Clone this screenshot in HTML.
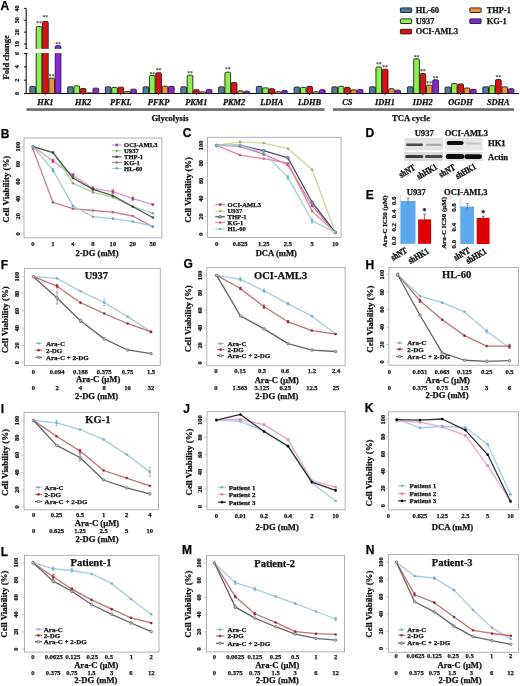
<!DOCTYPE html>
<html><head><meta charset="utf-8"><style>
html,body{margin:0;padding:0;background:#fff;}
svg{display:block;filter:blur(0.35px);}
text{stroke:#111;stroke-width:0.25px;}
text.ns{stroke:none;}
</style></head><body>
<svg width="520" height="686" viewBox="0 0 520 686">
<rect width="520" height="686" fill="#fff"/>
<text x="0.4" y="9.79" font-size="12" font-weight="bold" style="font-family:'Liberation Sans', sans-serif" fill="#000">A</text>
<line x1="26.2" y1="8.4" x2="26.2" y2="48.4" stroke="#000" stroke-width="1" />
<line x1="26.2" y1="53.5" x2="26.2" y2="94" stroke="#000" stroke-width="1" />
<line x1="24" y1="44" x2="26.2" y2="44" stroke="#000" stroke-width="0.9" />
<text transform="translate(17,44) rotate(-90)" x="0" y="1.99" font-size="6" text-anchor="middle" font-weight="bold" style="font-family:'Liberation Serif', serif;" fill="#222" >10</text>
<line x1="24" y1="32.13" x2="26.2" y2="32.13" stroke="#000" stroke-width="0.9" />
<text transform="translate(17,32.13) rotate(-90)" x="0" y="1.99" font-size="6" text-anchor="middle" font-weight="bold" style="font-family:'Liberation Serif', serif;" fill="#222" >20</text>
<line x1="24" y1="20.26" x2="26.2" y2="20.26" stroke="#000" stroke-width="0.9" />
<text transform="translate(17,20.26) rotate(-90)" x="0" y="1.99" font-size="6" text-anchor="middle" font-weight="bold" style="font-family:'Liberation Serif', serif;" fill="#222" >30</text>
<line x1="24" y1="8.39" x2="26.2" y2="8.39" stroke="#000" stroke-width="0.9" />
<text transform="translate(17,8.39) rotate(-90)" x="0" y="1.99" font-size="6" text-anchor="middle" font-weight="bold" style="font-family:'Liberation Serif', serif;" fill="#222" >40</text>
<line x1="24" y1="93.5" x2="26.2" y2="93.5" stroke="#000" stroke-width="0.9" />
<text transform="translate(17,93.5) rotate(-90)" x="0" y="1.99" font-size="6" text-anchor="middle" font-weight="bold" style="font-family:'Liberation Serif', serif;" fill="#222" >0</text>
<line x1="24" y1="80.17" x2="26.2" y2="80.17" stroke="#000" stroke-width="0.9" />
<text transform="translate(17,80.17) rotate(-90)" x="0" y="1.99" font-size="6" text-anchor="middle" font-weight="bold" style="font-family:'Liberation Serif', serif;" fill="#222" >2</text>
<line x1="24" y1="66.83" x2="26.2" y2="66.83" stroke="#000" stroke-width="0.9" />
<text transform="translate(17,66.83) rotate(-90)" x="0" y="1.99" font-size="6" text-anchor="middle" font-weight="bold" style="font-family:'Liberation Serif', serif;" fill="#222" >4</text>
<line x1="24" y1="53.5" x2="26.2" y2="53.5" stroke="#000" stroke-width="0.9" />
<text transform="translate(17,53.5) rotate(-90)" x="0" y="1.99" font-size="6" text-anchor="middle" font-weight="bold" style="font-family:'Liberation Serif', serif;" fill="#222" >6</text>
<line x1="25.2" y1="48.4" x2="27.7" y2="48.4" stroke="#000" stroke-width="0.9" />
<line x1="25.2" y1="53.5" x2="27.7" y2="53.5" stroke="#000" stroke-width="0.9" />
<text transform="translate(5.9,57.3) rotate(-90)" x="0" y="2.81" font-size="8.5" text-anchor="middle" font-weight="bold" style="font-family:'Liberation Serif', serif;" fill="#111" >Fold change</text>
<line x1="26.2" y1="93.5" x2="519" y2="93.5" stroke="#000" stroke-width="1" />
<rect x="29.85" y="86.37" width="5.65" height="7.13" fill="#4d7d9c" stroke="#1e1e1e" stroke-width="0.9" rx="1.1"/>
<rect x="36.2" y="26.55" width="5.65" height="66.95" fill="#8ef04a" stroke="#1e1e1e" stroke-width="0.9" rx="1.1"/>
<rect x="42.55" y="21.45" width="5.65" height="72.05" fill="#e01010" stroke="#1e1e1e" stroke-width="0.9" rx="1.1"/>
<rect x="48.9" y="78.17" width="5.65" height="15.33" fill="#f0913a" stroke="#1e1e1e" stroke-width="0.9" rx="1.1"/>
<rect x="55.25" y="45.78" width="5.65" height="47.72" fill="#8a24dc" stroke="#1e1e1e" stroke-width="0.9" rx="1.1"/>
<line x1="45.3" y1="93.5" x2="45.3" y2="95.1" stroke="#000" stroke-width="0.8" />
<text x="45.3" y="105.18" font-size="8.4" text-anchor="middle" font-weight="bold" style="font-family:'Liberation Serif', serif;font-style:italic;" fill="#111" >HK1</text>
<text x="39.02" y="25.32" font-size="5.8" text-anchor="middle" font-weight="bold" style="font-family:'Liberation Serif', serif;" fill="#444" class="ns">**</text>
<text x="45.38" y="19.32" font-size="5.8" text-anchor="middle" font-weight="bold" style="font-family:'Liberation Serif', serif;" fill="#444" class="ns">**</text>
<text x="51.72" y="78.12" font-size="5.8" text-anchor="middle" font-weight="bold" style="font-family:'Liberation Serif', serif;" fill="#444" class="ns">**</text>
<text x="58.07" y="45.62" font-size="5.8" text-anchor="middle" font-weight="bold" style="font-family:'Liberation Serif', serif;" fill="#444" class="ns">**</text>
<rect x="67.6" y="86.83" width="5.65" height="6.67" fill="#4d7d9c" stroke="#1e1e1e" stroke-width="0.9" rx="1.1"/>
<rect x="73.95" y="85.83" width="5.65" height="7.67" fill="#8ef04a" stroke="#1e1e1e" stroke-width="0.9" rx="1.1"/>
<rect x="80.3" y="88.5" width="5.65" height="5" fill="#e01010" stroke="#1e1e1e" stroke-width="0.9" rx="1.1"/>
<rect x="86.65" y="92.83" width="5.65" height="0.67" fill="#f0913a" stroke="#1e1e1e" stroke-width="0.9" rx="1.1"/>
<rect x="93" y="88.17" width="5.65" height="5.33" fill="#8a24dc" stroke="#1e1e1e" stroke-width="0.9" rx="1.1"/>
<line x1="83.05" y1="93.5" x2="83.05" y2="95.1" stroke="#000" stroke-width="0.8" />
<text x="83.05" y="105.18" font-size="8.4" text-anchor="middle" font-weight="bold" style="font-family:'Liberation Serif', serif;font-style:italic;" fill="#111" >HK2</text>
<rect x="105.35" y="86.83" width="5.65" height="6.67" fill="#4d7d9c" stroke="#1e1e1e" stroke-width="0.9" rx="1.1"/>
<rect x="111.7" y="87.5" width="5.65" height="6" fill="#8ef04a" stroke="#1e1e1e" stroke-width="0.9" rx="1.1"/>
<rect x="118.05" y="87.17" width="5.65" height="6.33" fill="#e01010" stroke="#1e1e1e" stroke-width="0.9" rx="1.1"/>
<rect x="124.4" y="91.5" width="5.65" height="2" fill="#f0913a" stroke="#1e1e1e" stroke-width="0.9" rx="1.1"/>
<rect x="130.75" y="89.17" width="5.65" height="4.33" fill="#8a24dc" stroke="#1e1e1e" stroke-width="0.9" rx="1.1"/>
<line x1="120.8" y1="93.5" x2="120.8" y2="95.1" stroke="#000" stroke-width="0.8" />
<text x="120.8" y="105.18" font-size="8.4" text-anchor="middle" font-weight="bold" style="font-family:'Liberation Serif', serif;font-style:italic;" fill="#111" >PFKL</text>
<rect x="143.1" y="86.83" width="5.65" height="6.67" fill="#4d7d9c" stroke="#1e1e1e" stroke-width="0.9" rx="1.1"/>
<rect x="149.45" y="75.5" width="5.65" height="18" fill="#8ef04a" stroke="#1e1e1e" stroke-width="0.9" rx="1.1"/>
<rect x="155.8" y="72.83" width="5.65" height="20.67" fill="#e01010" stroke="#1e1e1e" stroke-width="0.9" rx="1.1"/>
<rect x="162.15" y="86.17" width="5.65" height="7.33" fill="#f0913a" stroke="#1e1e1e" stroke-width="0.9" rx="1.1"/>
<rect x="168.5" y="86.37" width="5.65" height="7.13" fill="#8a24dc" stroke="#1e1e1e" stroke-width="0.9" rx="1.1"/>
<line x1="158.55" y1="93.5" x2="158.55" y2="95.1" stroke="#000" stroke-width="0.8" />
<text x="158.55" y="105.18" font-size="8.4" text-anchor="middle" font-weight="bold" style="font-family:'Liberation Serif', serif;font-style:italic;" fill="#111" >PFKP</text>
<text x="152.28" y="75.72" font-size="5.8" text-anchor="middle" font-weight="bold" style="font-family:'Liberation Serif', serif;" fill="#444" class="ns">**</text>
<text x="158.62" y="71.62" font-size="5.8" text-anchor="middle" font-weight="bold" style="font-family:'Liberation Serif', serif;" fill="#444" class="ns">**</text>
<rect x="180.85" y="86.83" width="5.65" height="6.67" fill="#4d7d9c" stroke="#1e1e1e" stroke-width="0.9" rx="1.1"/>
<rect x="187.2" y="75.17" width="5.65" height="18.33" fill="#8ef04a" stroke="#1e1e1e" stroke-width="0.9" rx="1.1"/>
<rect x="193.55" y="89.83" width="5.65" height="3.67" fill="#e01010" stroke="#1e1e1e" stroke-width="0.9" rx="1.1"/>
<rect x="199.9" y="91.83" width="5.65" height="1.67" fill="#f0913a" stroke="#1e1e1e" stroke-width="0.9" rx="1.1"/>
<rect x="206.25" y="89.5" width="5.65" height="4" fill="#8a24dc" stroke="#1e1e1e" stroke-width="0.9" rx="1.1"/>
<line x1="196.3" y1="93.5" x2="196.3" y2="95.1" stroke="#000" stroke-width="0.8" />
<text x="196.3" y="105.18" font-size="8.4" text-anchor="middle" font-weight="bold" style="font-family:'Liberation Serif', serif;font-style:italic;" fill="#111" >PKM1</text>
<text x="190.03" y="74.62" font-size="5.8" text-anchor="middle" font-weight="bold" style="font-family:'Liberation Serif', serif;" fill="#444" class="ns">**</text>
<rect x="218.6" y="86.83" width="5.65" height="6.67" fill="#4d7d9c" stroke="#1e1e1e" stroke-width="0.9" rx="1.1"/>
<rect x="224.95" y="72.17" width="5.65" height="21.33" fill="#8ef04a" stroke="#1e1e1e" stroke-width="0.9" rx="1.1"/>
<rect x="231.3" y="82.5" width="5.65" height="11" fill="#e01010" stroke="#1e1e1e" stroke-width="0.9" rx="1.1"/>
<rect x="237.65" y="90.83" width="5.65" height="2.67" fill="#f0913a" stroke="#1e1e1e" stroke-width="0.9" rx="1.1"/>
<rect x="244" y="91.17" width="5.65" height="2.33" fill="#8a24dc" stroke="#1e1e1e" stroke-width="0.9" rx="1.1"/>
<line x1="234.05" y1="93.5" x2="234.05" y2="95.1" stroke="#000" stroke-width="0.8" />
<text x="234.05" y="105.18" font-size="8.4" text-anchor="middle" font-weight="bold" style="font-family:'Liberation Serif', serif;font-style:italic;" fill="#111" >PKM2</text>
<text x="227.78" y="71.12" font-size="5.8" text-anchor="middle" font-weight="bold" style="font-family:'Liberation Serif', serif;" fill="#444" class="ns">**</text>
<rect x="256.35" y="86.37" width="5.65" height="7.13" fill="#4d7d9c" stroke="#1e1e1e" stroke-width="0.9" rx="1.1"/>
<rect x="262.7" y="87.83" width="5.65" height="5.67" fill="#8ef04a" stroke="#1e1e1e" stroke-width="0.9" rx="1.1"/>
<rect x="269.05" y="88.7" width="5.65" height="4.8" fill="#e01010" stroke="#1e1e1e" stroke-width="0.9" rx="1.1"/>
<rect x="275.4" y="91.7" width="5.65" height="1.8" fill="#f0913a" stroke="#1e1e1e" stroke-width="0.9" rx="1.1"/>
<rect x="281.75" y="90.5" width="5.65" height="3" fill="#8a24dc" stroke="#1e1e1e" stroke-width="0.9" rx="1.1"/>
<line x1="271.8" y1="93.5" x2="271.8" y2="95.1" stroke="#000" stroke-width="0.8" />
<text x="271.8" y="105.18" font-size="8.4" text-anchor="middle" font-weight="bold" style="font-family:'Liberation Serif', serif;font-style:italic;" fill="#111" >LDHA</text>
<rect x="294.1" y="87.03" width="5.65" height="6.47" fill="#4d7d9c" stroke="#1e1e1e" stroke-width="0.9" rx="1.1"/>
<rect x="300.45" y="87.37" width="5.65" height="6.13" fill="#8ef04a" stroke="#1e1e1e" stroke-width="0.9" rx="1.1"/>
<rect x="306.8" y="86.37" width="5.65" height="7.13" fill="#e01010" stroke="#1e1e1e" stroke-width="0.9" rx="1.1"/>
<rect x="313.15" y="91.7" width="5.65" height="1.8" fill="#f0913a" stroke="#1e1e1e" stroke-width="0.9" rx="1.1"/>
<rect x="319.5" y="89.7" width="5.65" height="3.8" fill="#8a24dc" stroke="#1e1e1e" stroke-width="0.9" rx="1.1"/>
<line x1="309.55" y1="93.5" x2="309.55" y2="95.1" stroke="#000" stroke-width="0.8" />
<text x="309.55" y="105.18" font-size="8.4" text-anchor="middle" font-weight="bold" style="font-family:'Liberation Serif', serif;font-style:italic;" fill="#111" >LDHB</text>
<rect x="331.85" y="86.83" width="5.65" height="6.67" fill="#4d7d9c" stroke="#1e1e1e" stroke-width="0.9" rx="1.1"/>
<rect x="338.2" y="86.37" width="5.65" height="7.13" fill="#8ef04a" stroke="#1e1e1e" stroke-width="0.9" rx="1.1"/>
<rect x="344.55" y="87.37" width="5.65" height="6.13" fill="#e01010" stroke="#1e1e1e" stroke-width="0.9" rx="1.1"/>
<rect x="350.9" y="89.83" width="5.65" height="3.67" fill="#f0913a" stroke="#1e1e1e" stroke-width="0.9" rx="1.1"/>
<rect x="357.25" y="89.5" width="5.65" height="4" fill="#8a24dc" stroke="#1e1e1e" stroke-width="0.9" rx="1.1"/>
<line x1="347.3" y1="93.5" x2="347.3" y2="95.1" stroke="#000" stroke-width="0.8" />
<text x="347.3" y="105.18" font-size="8.4" text-anchor="middle" font-weight="bold" style="font-family:'Liberation Serif', serif;font-style:italic;" fill="#111" >CS</text>
<rect x="369.6" y="86.83" width="5.65" height="6.67" fill="#4d7d9c" stroke="#1e1e1e" stroke-width="0.9" rx="1.1"/>
<rect x="375.95" y="66.97" width="5.65" height="26.53" fill="#8ef04a" stroke="#1e1e1e" stroke-width="0.9" rx="1.1"/>
<rect x="382.3" y="69.3" width="5.65" height="24.2" fill="#e01010" stroke="#1e1e1e" stroke-width="0.9" rx="1.1"/>
<rect x="388.65" y="88.7" width="5.65" height="4.8" fill="#f0913a" stroke="#1e1e1e" stroke-width="0.9" rx="1.1"/>
<rect x="395" y="90.17" width="5.65" height="3.33" fill="#8a24dc" stroke="#1e1e1e" stroke-width="0.9" rx="1.1"/>
<line x1="385.05" y1="93.5" x2="385.05" y2="95.1" stroke="#000" stroke-width="0.8" />
<text x="385.05" y="105.18" font-size="8.4" text-anchor="middle" font-weight="bold" style="font-family:'Liberation Serif', serif;font-style:italic;" fill="#111" >IDH1</text>
<text x="378.78" y="65.72" font-size="5.8" text-anchor="middle" font-weight="bold" style="font-family:'Liberation Serif', serif;" fill="#444" class="ns">**</text>
<text x="385.12" y="68.52" font-size="5.8" text-anchor="middle" font-weight="bold" style="font-family:'Liberation Serif', serif;" fill="#444" class="ns">**</text>
<rect x="407.35" y="86.83" width="5.65" height="6.67" fill="#4d7d9c" stroke="#1e1e1e" stroke-width="0.9" rx="1.1"/>
<rect x="413.7" y="58.83" width="5.65" height="34.67" fill="#8ef04a" stroke="#1e1e1e" stroke-width="0.9" rx="1.1"/>
<rect x="420.05" y="73.5" width="5.65" height="20" fill="#e01010" stroke="#1e1e1e" stroke-width="0.9" rx="1.1"/>
<rect x="426.4" y="85.17" width="5.65" height="8.33" fill="#f0913a" stroke="#1e1e1e" stroke-width="0.9" rx="1.1"/>
<rect x="432.75" y="79.83" width="5.65" height="13.67" fill="#8a24dc" stroke="#1e1e1e" stroke-width="0.9" rx="1.1"/>
<line x1="422.8" y1="93.5" x2="422.8" y2="95.1" stroke="#000" stroke-width="0.8" />
<text x="422.8" y="105.18" font-size="8.4" text-anchor="middle" font-weight="bold" style="font-family:'Liberation Serif', serif;font-style:italic;" fill="#111" >IDH2</text>
<text x="416.53" y="58.82" font-size="5.8" text-anchor="middle" font-weight="bold" style="font-family:'Liberation Serif', serif;" fill="#444" class="ns">**</text>
<text x="422.88" y="72.72" font-size="5.8" text-anchor="middle" font-weight="bold" style="font-family:'Liberation Serif', serif;" fill="#444" class="ns">**</text>
<text x="429.23" y="84.72" font-size="5.8" text-anchor="middle" font-weight="bold" style="font-family:'Liberation Serif', serif;" fill="#444" class="ns">**</text>
<text x="435.57" y="79.62" font-size="5.8" text-anchor="middle" font-weight="bold" style="font-family:'Liberation Serif', serif;" fill="#444" class="ns">**</text>
<rect x="445.1" y="87.03" width="5.65" height="6.47" fill="#4d7d9c" stroke="#1e1e1e" stroke-width="0.9" rx="1.1"/>
<rect x="451.45" y="83.5" width="5.65" height="10" fill="#8ef04a" stroke="#1e1e1e" stroke-width="0.9" rx="1.1"/>
<rect x="457.8" y="84.03" width="5.65" height="9.47" fill="#e01010" stroke="#1e1e1e" stroke-width="0.9" rx="1.1"/>
<rect x="464.15" y="87.97" width="5.65" height="5.53" fill="#f0913a" stroke="#1e1e1e" stroke-width="0.9" rx="1.1"/>
<rect x="470.5" y="89.37" width="5.65" height="4.13" fill="#8a24dc" stroke="#1e1e1e" stroke-width="0.9" rx="1.1"/>
<line x1="460.55" y1="93.5" x2="460.55" y2="95.1" stroke="#000" stroke-width="0.8" />
<text x="460.55" y="105.18" font-size="8.4" text-anchor="middle" font-weight="bold" style="font-family:'Liberation Serif', serif;font-style:italic;" fill="#111" >OGDH</text>
<rect x="482.85" y="86.83" width="5.65" height="6.67" fill="#4d7d9c" stroke="#1e1e1e" stroke-width="0.9" rx="1.1"/>
<rect x="489.2" y="85.7" width="5.65" height="7.8" fill="#8ef04a" stroke="#1e1e1e" stroke-width="0.9" rx="1.1"/>
<rect x="495.55" y="79.5" width="5.65" height="14" fill="#e01010" stroke="#1e1e1e" stroke-width="0.9" rx="1.1"/>
<rect x="501.9" y="86.83" width="5.65" height="6.67" fill="#f0913a" stroke="#1e1e1e" stroke-width="0.9" rx="1.1"/>
<rect x="508.25" y="88.7" width="5.65" height="4.8" fill="#8a24dc" stroke="#1e1e1e" stroke-width="0.9" rx="1.1"/>
<line x1="498.3" y1="93.5" x2="498.3" y2="95.1" stroke="#000" stroke-width="0.8" />
<text x="498.3" y="105.18" font-size="8.4" text-anchor="middle" font-weight="bold" style="font-family:'Liberation Serif', serif;font-style:italic;" fill="#111" >SDHA</text>
<text x="498.38" y="78.92" font-size="5.8" text-anchor="middle" font-weight="bold" style="font-family:'Liberation Serif', serif;" fill="#444" class="ns">**</text>
<rect x="26.8" y="48.85" width="70" height="4.2" fill="#fff" />
<rect x="26.5" y="108.2" width="298" height="2.7" fill="#6e6e6e" />
<rect x="333" y="108.2" width="181" height="2.7" fill="#6e6e6e" />
<text x="170" y="120.65" font-size="8.6" text-anchor="middle" font-weight="bold" style="font-family:'Liberation Serif', serif;" fill="#111" >Glycolysis</text>
<text x="411" y="120.65" font-size="8.6" text-anchor="middle" font-weight="bold" style="font-family:'Liberation Serif', serif;" fill="#111" >TCA cycle</text>
<rect x="400.4" y="7.9" width="11.3" height="4.6" fill="#4d7d9c" stroke="#1a1a1a" stroke-width="0.9" rx="0.6"/>
<text x="415.8" y="12.98" font-size="8.4" text-anchor="start" font-weight="bold" style="font-family:'Liberation Serif', serif;" fill="#111" >HL-60</text>
<rect x="400.4" y="18.9" width="11.3" height="4.6" fill="#8ef04a" stroke="#1a1a1a" stroke-width="0.9" rx="0.6"/>
<text x="415.8" y="23.98" font-size="8.4" text-anchor="start" font-weight="bold" style="font-family:'Liberation Serif', serif;" fill="#111" >U937</text>
<rect x="400.4" y="29.3" width="11.3" height="4.6" fill="#e01010" stroke="#1a1a1a" stroke-width="0.9" rx="0.6"/>
<text x="415.8" y="34.38" font-size="8.4" text-anchor="start" font-weight="bold" style="font-family:'Liberation Serif', serif;" fill="#111" >OCI-AML3</text>
<rect x="469.8" y="7.9" width="11.3" height="4.6" fill="#f0913a" stroke="#1a1a1a" stroke-width="0.9" rx="0.6"/>
<text x="486.7" y="12.98" font-size="8.4" text-anchor="start" font-weight="bold" style="font-family:'Liberation Serif', serif;" fill="#111" >THP-1</text>
<rect x="469.8" y="18.9" width="11.3" height="4.6" fill="#8a24dc" stroke="#1a1a1a" stroke-width="0.9" rx="0.6"/>
<text x="486.7" y="23.98" font-size="8.4" text-anchor="start" font-weight="bold" style="font-family:'Liberation Serif', serif;" fill="#111" >KG-1</text>
<text x="0.8" y="137.59" font-size="12" font-weight="bold" style="font-family:'Liberation Sans', sans-serif" fill="#000">B</text>
<rect x="24" y="138" width="137.9" height="99.9" fill="none" stroke="#a8a8a8" stroke-width="0.9" />
<line x1="21.4" y1="233.8" x2="24" y2="233.8" stroke="#bbb" stroke-width="0.8" />
<text transform="translate(17.6,233.8) rotate(-90)" x="0" y="2.12" font-size="6.4" text-anchor="middle" font-weight="bold" style="font-family:'Liberation Serif', serif;" fill="#222" >0</text>
<line x1="21.4" y1="216.36" x2="24" y2="216.36" stroke="#bbb" stroke-width="0.8" />
<text transform="translate(17.6,216.36) rotate(-90)" x="0" y="2.12" font-size="6.4" text-anchor="middle" font-weight="bold" style="font-family:'Liberation Serif', serif;" fill="#222" >20</text>
<line x1="21.4" y1="198.92" x2="24" y2="198.92" stroke="#bbb" stroke-width="0.8" />
<text transform="translate(17.6,198.92) rotate(-90)" x="0" y="2.12" font-size="6.4" text-anchor="middle" font-weight="bold" style="font-family:'Liberation Serif', serif;" fill="#222" >40</text>
<line x1="21.4" y1="181.48" x2="24" y2="181.48" stroke="#bbb" stroke-width="0.8" />
<text transform="translate(17.6,181.48) rotate(-90)" x="0" y="2.12" font-size="6.4" text-anchor="middle" font-weight="bold" style="font-family:'Liberation Serif', serif;" fill="#222" >60</text>
<line x1="21.4" y1="164.04" x2="24" y2="164.04" stroke="#bbb" stroke-width="0.8" />
<text transform="translate(17.6,164.04) rotate(-90)" x="0" y="2.12" font-size="6.4" text-anchor="middle" font-weight="bold" style="font-family:'Liberation Serif', serif;" fill="#222" >80</text>
<line x1="21.4" y1="146.6" x2="24" y2="146.6" stroke="#bbb" stroke-width="0.8" />
<text transform="translate(17.6,146.6) rotate(-90)" x="0" y="2.12" font-size="6.4" text-anchor="middle" font-weight="bold" style="font-family:'Liberation Serif', serif;" fill="#222" >100</text>
<text transform="translate(5.8,189.2) rotate(-90)" x="0" y="2.95" font-size="8.9" text-anchor="middle" font-weight="bold" style="font-family:'Liberation Serif', serif;" fill="#111" >Cell Viability (%)</text>
<text x="33" y="246.38" font-size="6.6" text-anchor="middle" font-weight="bold" style="font-family:'Liberation Serif', serif;" fill="#222" >0</text>
<text x="52.97" y="246.38" font-size="6.6" text-anchor="middle" font-weight="bold" style="font-family:'Liberation Serif', serif;" fill="#222" >1</text>
<text x="72.94" y="246.38" font-size="6.6" text-anchor="middle" font-weight="bold" style="font-family:'Liberation Serif', serif;" fill="#222" >4</text>
<text x="92.91" y="246.38" font-size="6.6" text-anchor="middle" font-weight="bold" style="font-family:'Liberation Serif', serif;" fill="#222" >8</text>
<text x="112.88" y="246.38" font-size="6.6" text-anchor="middle" font-weight="bold" style="font-family:'Liberation Serif', serif;" fill="#222" >10</text>
<text x="132.85" y="246.38" font-size="6.6" text-anchor="middle" font-weight="bold" style="font-family:'Liberation Serif', serif;" fill="#222" >20</text>
<text x="152.82" y="246.38" font-size="6.6" text-anchor="middle" font-weight="bold" style="font-family:'Liberation Serif', serif;" fill="#222" >50</text>
<text x="97" y="256.45" font-size="8.6" text-anchor="middle" font-weight="bold" style="font-family:'Liberation Serif', serif;" fill="#111" >2-DG (mM)</text>
<polyline points="33,146.6 52.97,160.99 72.94,175.38 92.91,188.46 112.88,191.68 132.85,198.66 152.82,204.59" fill="none" stroke="#d49cc8" stroke-width="1.3" stroke-linejoin="round"/>
<rect x="31.7" y="145.3" width="2.6" height="2.6" fill="#b03c90"/>
<line x1="52.97" y1="159.24" x2="52.97" y2="162.73" stroke="#b03c90" stroke-width="0.7" />
<line x1="51.77" y1="159.24" x2="54.17" y2="159.24" stroke="#b03c90" stroke-width="0.7" />
<line x1="51.77" y1="162.73" x2="54.17" y2="162.73" stroke="#b03c90" stroke-width="0.7" />
<rect x="51.67" y="159.69" width="2.6" height="2.6" fill="#b03c90"/>
<line x1="72.94" y1="173.63" x2="72.94" y2="177.12" stroke="#b03c90" stroke-width="0.7" />
<line x1="71.74" y1="173.63" x2="74.14" y2="173.63" stroke="#b03c90" stroke-width="0.7" />
<line x1="71.74" y1="177.12" x2="74.14" y2="177.12" stroke="#b03c90" stroke-width="0.7" />
<rect x="71.64" y="174.08" width="2.6" height="2.6" fill="#b03c90"/>
<line x1="92.91" y1="186.71" x2="92.91" y2="190.2" stroke="#b03c90" stroke-width="0.7" />
<line x1="91.71" y1="186.71" x2="94.11" y2="186.71" stroke="#b03c90" stroke-width="0.7" />
<line x1="91.71" y1="190.2" x2="94.11" y2="190.2" stroke="#b03c90" stroke-width="0.7" />
<rect x="91.61" y="187.16" width="2.6" height="2.6" fill="#b03c90"/>
<line x1="112.88" y1="189.94" x2="112.88" y2="193.43" stroke="#b03c90" stroke-width="0.7" />
<line x1="111.68" y1="189.94" x2="114.08" y2="189.94" stroke="#b03c90" stroke-width="0.7" />
<line x1="111.68" y1="193.43" x2="114.08" y2="193.43" stroke="#b03c90" stroke-width="0.7" />
<rect x="111.58" y="190.38" width="2.6" height="2.6" fill="#b03c90"/>
<line x1="132.85" y1="196.91" x2="132.85" y2="200.4" stroke="#b03c90" stroke-width="0.7" />
<line x1="131.65" y1="196.91" x2="134.05" y2="196.91" stroke="#b03c90" stroke-width="0.7" />
<line x1="131.65" y1="200.4" x2="134.05" y2="200.4" stroke="#b03c90" stroke-width="0.7" />
<rect x="131.55" y="197.36" width="2.6" height="2.6" fill="#b03c90"/>
<rect x="151.52" y="203.29" width="2.6" height="2.6" fill="#b03c90"/>
<polyline points="33,146.6 52.97,152.27 72.94,183.22 92.91,192.38 112.88,197.18 132.85,206.77 152.82,213.22" fill="none" stroke="#a8d498" stroke-width="1.3" stroke-linejoin="round"/>
<circle cx="33" cy="146.6" r="1.3" fill="#78b468"/>
<circle cx="52.97" cy="152.27" r="1.3" fill="#78b468"/>
<circle cx="72.94" cy="183.22" r="1.3" fill="#78b468"/>
<circle cx="92.91" cy="192.38" r="1.3" fill="#78b468"/>
<circle cx="112.88" cy="197.18" r="1.3" fill="#78b468"/>
<circle cx="132.85" cy="206.77" r="1.3" fill="#78b468"/>
<circle cx="152.82" cy="213.22" r="1.3" fill="#78b468"/>
<polyline points="33,146.6 52.97,152.7 72.94,177.99 92.91,189.33 112.88,195.69 132.85,206.77 152.82,217.49" fill="none" stroke="#4c5c4a" stroke-width="1.3" stroke-linejoin="round"/>
<circle cx="33" cy="146.6" r="1.3" fill="#3c4c3a"/>
<circle cx="52.97" cy="152.7" r="1.3" fill="#3c4c3a"/>
<circle cx="72.94" cy="177.99" r="1.3" fill="#3c4c3a"/>
<circle cx="92.91" cy="189.33" r="1.3" fill="#3c4c3a"/>
<circle cx="112.88" cy="195.69" r="1.3" fill="#3c4c3a"/>
<circle cx="132.85" cy="206.77" r="1.3" fill="#3c4c3a"/>
<circle cx="152.82" cy="217.49" r="1.3" fill="#3c4c3a"/>
<polyline points="33,149.22 52.97,202.41 72.94,208.69 92.91,210.52 112.88,212.17 132.85,216.01 152.82,226.82" fill="none" stroke="#c88088" stroke-width="1.3" stroke-linejoin="round"/>
<circle cx="33" cy="149.22" r="1.3" fill="#b06870"/>
<circle cx="52.97" cy="202.41" r="1.3" fill="#b06870"/>
<circle cx="72.94" cy="208.69" r="1.3" fill="#b06870"/>
<circle cx="92.91" cy="210.52" r="1.3" fill="#b06870"/>
<circle cx="112.88" cy="212.17" r="1.3" fill="#b06870"/>
<circle cx="132.85" cy="216.01" r="1.3" fill="#b06870"/>
<circle cx="152.82" cy="226.82" r="1.3" fill="#b06870"/>
<polyline points="33,146.6 52.97,170.14 72.94,205.9 92.91,216.71 112.88,218.63 132.85,221.59 152.82,226.21" fill="none" stroke="#a0cce2" stroke-width="1.3" stroke-linejoin="round"/>
<circle cx="33" cy="146.6" r="1.3" fill="#68acd4"/>
<line x1="52.97" y1="168.4" x2="52.97" y2="171.89" stroke="#68acd4" stroke-width="0.7" />
<line x1="51.77" y1="168.4" x2="54.17" y2="168.4" stroke="#68acd4" stroke-width="0.7" />
<line x1="51.77" y1="171.89" x2="54.17" y2="171.89" stroke="#68acd4" stroke-width="0.7" />
<circle cx="52.97" cy="170.14" r="1.3" fill="#68acd4"/>
<circle cx="72.94" cy="205.9" r="1.3" fill="#68acd4"/>
<circle cx="92.91" cy="216.71" r="1.3" fill="#68acd4"/>
<circle cx="112.88" cy="218.63" r="1.3" fill="#68acd4"/>
<circle cx="132.85" cy="221.59" r="1.3" fill="#68acd4"/>
<circle cx="152.82" cy="226.21" r="1.3" fill="#68acd4"/>
<line x1="112" y1="145" x2="121.5" y2="145" stroke="#d49cc8" stroke-width="1.2" />
<rect x="115.45" y="143.7" width="2.6" height="2.6" fill="#b03c90"/>
<text x="124.1" y="147.18" font-size="6.6" text-anchor="start" font-weight="bold" style="font-family:'Liberation Serif', serif;" fill="#111" >OCI-AML3</text>
<line x1="112" y1="150.8" x2="121.5" y2="150.8" stroke="#a8d498" stroke-width="1.2" />
<circle cx="116.75" cy="150.8" r="1.3" fill="#78b468"/>
<text x="124.1" y="152.98" font-size="6.6" text-anchor="start" font-weight="bold" style="font-family:'Liberation Serif', serif;" fill="#111" >U937</text>
<line x1="112" y1="156.8" x2="121.5" y2="156.8" stroke="#4c5c4a" stroke-width="1.2" />
<circle cx="116.75" cy="156.8" r="1.3" fill="#3c4c3a"/>
<text x="124.1" y="158.98" font-size="6.6" text-anchor="start" font-weight="bold" style="font-family:'Liberation Serif', serif;" fill="#111" >THP-1</text>
<line x1="112" y1="162.5" x2="121.5" y2="162.5" stroke="#c88088" stroke-width="1.2" />
<circle cx="116.75" cy="162.5" r="1.3" fill="#b06870"/>
<text x="124.1" y="164.68" font-size="6.6" text-anchor="start" font-weight="bold" style="font-family:'Liberation Serif', serif;" fill="#111" >KG-1</text>
<line x1="112" y1="168.4" x2="121.5" y2="168.4" stroke="#a0cce2" stroke-width="1.2" />
<circle cx="116.75" cy="168.4" r="1.3" fill="#68acd4"/>
<text x="124.1" y="170.58" font-size="6.6" text-anchor="start" font-weight="bold" style="font-family:'Liberation Serif', serif;" fill="#111" >HL-60</text>
<text x="182.8" y="137.09" font-size="12" font-weight="bold" style="font-family:'Liberation Sans', sans-serif" fill="#000">C</text>
<rect x="207.5" y="137.3" width="133.5" height="100.2" fill="none" stroke="#a8a8a8" stroke-width="0.9" />
<line x1="204.9" y1="234.2" x2="207.5" y2="234.2" stroke="#bbb" stroke-width="0.8" />
<text transform="translate(200.7,234.2) rotate(-90)" x="0" y="2.12" font-size="6.4" text-anchor="middle" font-weight="bold" style="font-family:'Liberation Serif', serif;" fill="#222" >0</text>
<line x1="204.9" y1="216.44" x2="207.5" y2="216.44" stroke="#bbb" stroke-width="0.8" />
<text transform="translate(200.7,216.44) rotate(-90)" x="0" y="2.12" font-size="6.4" text-anchor="middle" font-weight="bold" style="font-family:'Liberation Serif', serif;" fill="#222" >20</text>
<line x1="204.9" y1="198.68" x2="207.5" y2="198.68" stroke="#bbb" stroke-width="0.8" />
<text transform="translate(200.7,198.68) rotate(-90)" x="0" y="2.12" font-size="6.4" text-anchor="middle" font-weight="bold" style="font-family:'Liberation Serif', serif;" fill="#222" >40</text>
<line x1="204.9" y1="180.92" x2="207.5" y2="180.92" stroke="#bbb" stroke-width="0.8" />
<text transform="translate(200.7,180.92) rotate(-90)" x="0" y="2.12" font-size="6.4" text-anchor="middle" font-weight="bold" style="font-family:'Liberation Serif', serif;" fill="#222" >60</text>
<line x1="204.9" y1="163.16" x2="207.5" y2="163.16" stroke="#bbb" stroke-width="0.8" />
<text transform="translate(200.7,163.16) rotate(-90)" x="0" y="2.12" font-size="6.4" text-anchor="middle" font-weight="bold" style="font-family:'Liberation Serif', serif;" fill="#222" >80</text>
<line x1="204.9" y1="145.4" x2="207.5" y2="145.4" stroke="#bbb" stroke-width="0.8" />
<text transform="translate(200.7,145.4) rotate(-90)" x="0" y="2.12" font-size="6.4" text-anchor="middle" font-weight="bold" style="font-family:'Liberation Serif', serif;" fill="#222" >100</text>
<text transform="translate(188.55,189.9) rotate(-90)" x="0" y="2.88" font-size="8.7" text-anchor="middle" font-weight="bold" style="font-family:'Liberation Serif', serif;" fill="#111" >Cell Viability (%)</text>
<text x="216.6" y="245.88" font-size="6.6" text-anchor="middle" font-weight="bold" style="font-family:'Liberation Serif', serif;" fill="#222" >0</text>
<text x="240.1" y="245.88" font-size="6.6" text-anchor="middle" font-weight="bold" style="font-family:'Liberation Serif', serif;" fill="#222" >0.625</text>
<text x="263.8" y="245.88" font-size="6.6" text-anchor="middle" font-weight="bold" style="font-family:'Liberation Serif', serif;" fill="#222" >1.25</text>
<text x="287.9" y="245.88" font-size="6.6" text-anchor="middle" font-weight="bold" style="font-family:'Liberation Serif', serif;" fill="#222" >2.5</text>
<text x="312.1" y="245.88" font-size="6.6" text-anchor="middle" font-weight="bold" style="font-family:'Liberation Serif', serif;" fill="#222" >5</text>
<text x="335.3" y="245.88" font-size="6.6" text-anchor="middle" font-weight="bold" style="font-family:'Liberation Serif', serif;" fill="#222" >10</text>
<text x="276.3" y="255.55" font-size="8.6" text-anchor="middle" font-weight="bold" style="font-family:'Liberation Serif', serif;" fill="#111" >DCA (mM)</text>
<polyline points="216.6,145.4 240.1,146.29 263.8,154.28 287.9,164.94 312.1,205.78 335.3,232.42" fill="none" stroke="#d878a8" stroke-width="1.3" stroke-linejoin="round"/>
<rect x="215.3" y="144.1" width="2.6" height="2.6" fill="#b04080"/>
<rect x="238.8" y="144.99" width="2.6" height="2.6" fill="#b04080"/>
<rect x="262.5" y="152.98" width="2.6" height="2.6" fill="#b04080"/>
<rect x="286.6" y="163.64" width="2.6" height="2.6" fill="#b04080"/>
<rect x="310.8" y="204.48" width="2.6" height="2.6" fill="#b04080"/>
<rect x="334" y="231.12" width="2.6" height="2.6" fill="#b04080"/>
<polyline points="216.6,145.4 240.1,141.85 263.8,143.09 287.9,148.51 312.1,169.64 335.3,232.42" fill="none" stroke="#c4dc98" stroke-width="1.3" stroke-linejoin="round"/>
<circle cx="216.6" cy="145.4" r="1.3" fill="#98b870"/>
<circle cx="240.1" cy="141.85" r="1.3" fill="#98b870"/>
<circle cx="263.8" cy="143.09" r="1.3" fill="#98b870"/>
<circle cx="287.9" cy="148.51" r="1.3" fill="#98b870"/>
<circle cx="312.1" cy="169.64" r="1.3" fill="#98b870"/>
<circle cx="335.3" cy="232.42" r="1.3" fill="#98b870"/>
<polyline points="216.6,145.4 240.1,145.4 263.8,150.73 287.9,157.83 312.1,202.23 335.3,232.42" fill="none" stroke="#505068" stroke-width="1.3" stroke-linejoin="round"/>
<circle cx="216.6" cy="145.4" r="1.3" fill="#c8c8c8" stroke="#383850" stroke-width="0.8"/>
<circle cx="240.1" cy="145.4" r="1.3" fill="#c8c8c8" stroke="#383850" stroke-width="0.8"/>
<circle cx="263.8" cy="150.73" r="1.3" fill="#c8c8c8" stroke="#383850" stroke-width="0.8"/>
<circle cx="287.9" cy="157.83" r="1.3" fill="#c8c8c8" stroke="#383850" stroke-width="0.8"/>
<circle cx="312.1" cy="202.23" r="1.3" fill="#c8c8c8" stroke="#383850" stroke-width="0.8"/>
<circle cx="335.3" cy="232.42" r="1.3" fill="#c8c8c8" stroke="#383850" stroke-width="0.8"/>
<polyline points="216.6,145.4 240.1,155.17 263.8,158.72 287.9,163.16 312.1,211.11 335.3,232.42" fill="none" stroke="#e08898" stroke-width="1.3" stroke-linejoin="round"/>
<circle cx="216.6" cy="145.4" r="1.3" fill="#c86878"/>
<circle cx="240.1" cy="155.17" r="1.3" fill="#c86878"/>
<circle cx="263.8" cy="158.72" r="1.3" fill="#c86878"/>
<circle cx="287.9" cy="163.16" r="1.3" fill="#c86878"/>
<circle cx="312.1" cy="211.11" r="1.3" fill="#c86878"/>
<circle cx="335.3" cy="232.42" r="1.3" fill="#c86878"/>
<polyline points="216.6,145.4 240.1,145.4 263.8,152.5 287.9,177.37 312.1,220.88 335.3,232.42" fill="none" stroke="#a0d0e2" stroke-width="1.3" stroke-linejoin="round"/>
<circle cx="216.6" cy="145.4" r="1.3" fill="#70b4d4"/>
<circle cx="240.1" cy="145.4" r="1.3" fill="#70b4d4"/>
<circle cx="263.8" cy="152.5" r="1.3" fill="#70b4d4"/>
<line x1="287.9" y1="175.15" x2="287.9" y2="179.59" stroke="#70b4d4" stroke-width="0.7" />
<line x1="286.7" y1="175.15" x2="289.1" y2="175.15" stroke="#70b4d4" stroke-width="0.7" />
<line x1="286.7" y1="179.59" x2="289.1" y2="179.59" stroke="#70b4d4" stroke-width="0.7" />
<circle cx="287.9" cy="177.37" r="1.3" fill="#70b4d4"/>
<line x1="312.1" y1="218.66" x2="312.1" y2="223.1" stroke="#70b4d4" stroke-width="0.7" />
<line x1="310.9" y1="218.66" x2="313.3" y2="218.66" stroke="#70b4d4" stroke-width="0.7" />
<line x1="310.9" y1="223.1" x2="313.3" y2="223.1" stroke="#70b4d4" stroke-width="0.7" />
<circle cx="312.1" cy="220.88" r="1.3" fill="#70b4d4"/>
<circle cx="335.3" cy="232.42" r="1.3" fill="#70b4d4"/>
<line x1="215.3" y1="204.6" x2="225" y2="204.6" stroke="#d878a8" stroke-width="1.2" />
<rect x="218.85" y="203.3" width="2.6" height="2.6" fill="#b04080"/>
<text x="227.6" y="206.78" font-size="6.6" text-anchor="start" font-weight="bold" style="font-family:'Liberation Serif', serif;" fill="#111" >OCI-AML3</text>
<line x1="215.3" y1="211.1" x2="225" y2="211.1" stroke="#c4dc98" stroke-width="1.2" />
<circle cx="220.15" cy="211.1" r="1.3" fill="#98b870"/>
<text x="227.6" y="213.28" font-size="6.6" text-anchor="start" font-weight="bold" style="font-family:'Liberation Serif', serif;" fill="#111" >U937</text>
<line x1="215.3" y1="216.8" x2="225" y2="216.8" stroke="#505068" stroke-width="1.2" />
<circle cx="220.15" cy="216.8" r="1.3" fill="#c8c8c8" stroke="#383850" stroke-width="0.8"/>
<text x="227.6" y="218.98" font-size="6.6" text-anchor="start" font-weight="bold" style="font-family:'Liberation Serif', serif;" fill="#111" >THP-1</text>
<line x1="215.3" y1="222.5" x2="225" y2="222.5" stroke="#e08898" stroke-width="1.2" />
<circle cx="220.15" cy="222.5" r="1.3" fill="#c86878"/>
<text x="227.6" y="224.68" font-size="6.6" text-anchor="start" font-weight="bold" style="font-family:'Liberation Serif', serif;" fill="#111" >KG-1</text>
<line x1="215.3" y1="229" x2="225" y2="229" stroke="#a0d0e2" stroke-width="1.2" />
<circle cx="220.15" cy="229" r="1.3" fill="#70b4d4"/>
<text x="227.6" y="231.18" font-size="6.6" text-anchor="start" font-weight="bold" style="font-family:'Liberation Serif', serif;" fill="#111" >HL-60</text>
<text x="0.8" y="269.19" font-size="12" font-weight="bold" style="font-family:'Liberation Sans', sans-serif" fill="#000">F</text>
<rect x="24.4" y="268.5" width="135.9" height="97" fill="none" stroke="#a8a8a8" stroke-width="0.9" />
<line x1="21.8" y1="362.7" x2="24.4" y2="362.7" stroke="#bbb" stroke-width="0.8" />
<text transform="translate(17.3,362.7) rotate(-90)" x="0" y="2.12" font-size="6.4" text-anchor="middle" font-weight="bold" style="font-family:'Liberation Serif', serif;" fill="#222" >0</text>
<line x1="21.8" y1="345.5" x2="24.4" y2="345.5" stroke="#bbb" stroke-width="0.8" />
<text transform="translate(17.3,345.5) rotate(-90)" x="0" y="2.12" font-size="6.4" text-anchor="middle" font-weight="bold" style="font-family:'Liberation Serif', serif;" fill="#222" >20</text>
<line x1="21.8" y1="328.3" x2="24.4" y2="328.3" stroke="#bbb" stroke-width="0.8" />
<text transform="translate(17.3,328.3) rotate(-90)" x="0" y="2.12" font-size="6.4" text-anchor="middle" font-weight="bold" style="font-family:'Liberation Serif', serif;" fill="#222" >40</text>
<line x1="21.8" y1="311.1" x2="24.4" y2="311.1" stroke="#bbb" stroke-width="0.8" />
<text transform="translate(17.3,311.1) rotate(-90)" x="0" y="2.12" font-size="6.4" text-anchor="middle" font-weight="bold" style="font-family:'Liberation Serif', serif;" fill="#222" >60</text>
<line x1="21.8" y1="293.9" x2="24.4" y2="293.9" stroke="#bbb" stroke-width="0.8" />
<text transform="translate(17.3,293.9) rotate(-90)" x="0" y="2.12" font-size="6.4" text-anchor="middle" font-weight="bold" style="font-family:'Liberation Serif', serif;" fill="#222" >80</text>
<line x1="21.8" y1="276.7" x2="24.4" y2="276.7" stroke="#bbb" stroke-width="0.8" />
<text transform="translate(17.3,276.7) rotate(-90)" x="0" y="2.12" font-size="6.4" text-anchor="middle" font-weight="bold" style="font-family:'Liberation Serif', serif;" fill="#222" >100</text>
<text transform="translate(5.1,319.8) rotate(-90)" x="0" y="2.95" font-size="8.9" text-anchor="middle" font-weight="bold" style="font-family:'Liberation Serif', serif;" fill="#111" >Cell Viability (%)</text>
<text x="33.4" y="374.28" font-size="6.6" text-anchor="middle" font-weight="bold" style="font-family:'Liberation Serif', serif;" fill="#222" >0</text>
<text x="57.1" y="374.28" font-size="6.6" text-anchor="middle" font-weight="bold" style="font-family:'Liberation Serif', serif;" fill="#222" >0.094</text>
<text x="80.5" y="374.28" font-size="6.6" text-anchor="middle" font-weight="bold" style="font-family:'Liberation Serif', serif;" fill="#222" >0.188</text>
<text x="104.2" y="374.28" font-size="6.6" text-anchor="middle" font-weight="bold" style="font-family:'Liberation Serif', serif;" fill="#222" >0.375</text>
<text x="127.6" y="374.28" font-size="6.6" text-anchor="middle" font-weight="bold" style="font-family:'Liberation Serif', serif;" fill="#222" >0.75</text>
<text x="151" y="374.28" font-size="6.6" text-anchor="middle" font-weight="bold" style="font-family:'Liberation Serif', serif;" fill="#222" >1.5</text>
<text x="33.4" y="390.18" font-size="6.6" text-anchor="middle" font-weight="bold" style="font-family:'Liberation Serif', serif;" fill="#222" >0</text>
<text x="57.1" y="390.18" font-size="6.6" text-anchor="middle" font-weight="bold" style="font-family:'Liberation Serif', serif;" fill="#222" >2</text>
<text x="80.5" y="390.18" font-size="6.6" text-anchor="middle" font-weight="bold" style="font-family:'Liberation Serif', serif;" fill="#222" >4</text>
<text x="104.2" y="390.18" font-size="6.6" text-anchor="middle" font-weight="bold" style="font-family:'Liberation Serif', serif;" fill="#222" >8</text>
<text x="127.6" y="390.18" font-size="6.6" text-anchor="middle" font-weight="bold" style="font-family:'Liberation Serif', serif;" fill="#222" >16</text>
<text x="151" y="390.18" font-size="6.6" text-anchor="middle" font-weight="bold" style="font-family:'Liberation Serif', serif;" fill="#222" >32</text>
<text x="98.1" y="382.25" font-size="8.6" text-anchor="middle" font-weight="bold" style="font-family:'Liberation Serif', serif;" fill="#111" >Ara-C (µM)</text>
<text x="96.6" y="399.05" font-size="8.6" text-anchor="middle" font-weight="bold" style="font-family:'Liberation Serif', serif;" fill="#111" >2-DG (mM)</text>
<text x="96.3" y="279.03" font-size="10.5" text-anchor="middle" font-weight="bold" style="font-family:'Liberation Serif', serif;" fill="#111" >U937</text>
<polyline points="33.4,276.7 57.1,278.42 80.5,291.32 104.2,302.5 127.6,316.6 151,331.91" fill="none" stroke="#a4cce2" stroke-width="1.3" stroke-linejoin="round"/>
<circle cx="33.4" cy="276.7" r="1.3" fill="#78b0d4"/>
<circle cx="57.1" cy="278.42" r="1.3" fill="#78b0d4"/>
<circle cx="80.5" cy="291.32" r="1.3" fill="#78b0d4"/>
<line x1="104.2" y1="299.49" x2="104.2" y2="305.51" stroke="#78b0d4" stroke-width="0.7" />
<line x1="103" y1="299.49" x2="105.4" y2="299.49" stroke="#78b0d4" stroke-width="0.7" />
<line x1="103" y1="305.51" x2="105.4" y2="305.51" stroke="#78b0d4" stroke-width="0.7" />
<circle cx="104.2" cy="302.5" r="1.3" fill="#78b0d4"/>
<circle cx="127.6" cy="316.6" r="1.3" fill="#78b0d4"/>
<circle cx="151" cy="331.91" r="1.3" fill="#78b0d4"/>
<polyline points="33.4,276.7 57.1,286.16 80.5,302.67 104.2,313.51 127.6,323.48 151,331.91" fill="none" stroke="#c47070" stroke-width="1.3" stroke-linejoin="round"/>
<circle cx="33.4" cy="276.7" r="1.3" fill="#a02838"/>
<line x1="57.1" y1="284.44" x2="57.1" y2="287.88" stroke="#a02838" stroke-width="0.7" />
<line x1="55.9" y1="284.44" x2="58.3" y2="284.44" stroke="#a02838" stroke-width="0.7" />
<line x1="55.9" y1="287.88" x2="58.3" y2="287.88" stroke="#a02838" stroke-width="0.7" />
<circle cx="57.1" cy="286.16" r="1.3" fill="#a02838"/>
<circle cx="80.5" cy="302.67" r="1.3" fill="#a02838"/>
<circle cx="104.2" cy="313.51" r="1.3" fill="#a02838"/>
<circle cx="127.6" cy="323.48" r="1.3" fill="#a02838"/>
<circle cx="151" cy="331.91" r="1.3" fill="#a02838"/>
<polyline points="33.4,276.7 57.1,297.94 80.5,320.82 104.2,338.88 127.6,349.97 151,353.67" fill="none" stroke="#646464" stroke-width="1.3" stroke-linejoin="round"/>
<circle cx="33.4" cy="276.7" r="1.3" fill="#c8c8c8" stroke="#707070" stroke-width="0.8"/>
<line x1="57.1" y1="291.92" x2="57.1" y2="303.96" stroke="#707070" stroke-width="0.7" />
<line x1="55.9" y1="291.92" x2="58.3" y2="291.92" stroke="#707070" stroke-width="0.7" />
<line x1="55.9" y1="303.96" x2="58.3" y2="303.96" stroke="#707070" stroke-width="0.7" />
<circle cx="57.1" cy="297.94" r="1.3" fill="#c8c8c8" stroke="#707070" stroke-width="0.8"/>
<line x1="80.5" y1="319.1" x2="80.5" y2="322.54" stroke="#707070" stroke-width="0.7" />
<line x1="79.3" y1="319.1" x2="81.7" y2="319.1" stroke="#707070" stroke-width="0.7" />
<line x1="79.3" y1="322.54" x2="81.7" y2="322.54" stroke="#707070" stroke-width="0.7" />
<circle cx="80.5" cy="320.82" r="1.3" fill="#c8c8c8" stroke="#707070" stroke-width="0.8"/>
<circle cx="104.2" cy="338.88" r="1.3" fill="#c8c8c8" stroke="#707070" stroke-width="0.8"/>
<circle cx="127.6" cy="349.97" r="1.3" fill="#c8c8c8" stroke="#707070" stroke-width="0.8"/>
<circle cx="151" cy="353.67" r="1.3" fill="#c8c8c8" stroke="#707070" stroke-width="0.8"/>
<line x1="35.3" y1="343.2" x2="42" y2="343.2" stroke="#a4cce2" stroke-width="1.2" />
<circle cx="38.65" cy="343.2" r="1.3" fill="#78b0d4"/>
<text x="45.9" y="345.52" font-size="7" text-anchor="start" font-weight="bold" style="font-family:'Liberation Serif', serif;" fill="#111" >Ara-C</text>
<line x1="35.3" y1="350.2" x2="42" y2="350.2" stroke="#c47070" stroke-width="1.2" />
<circle cx="38.65" cy="350.2" r="1.3" fill="#a02838"/>
<text x="45.9" y="352.52" font-size="7" text-anchor="start" font-weight="bold" style="font-family:'Liberation Serif', serif;" fill="#111" >2-DG</text>
<line x1="35.3" y1="357.3" x2="42" y2="357.3" stroke="#646464" stroke-width="1.2" />
<circle cx="38.65" cy="357.3" r="1.3" fill="#c8c8c8" stroke="#707070" stroke-width="0.8"/>
<text x="45.9" y="359.62" font-size="7" text-anchor="start" font-weight="bold" style="font-family:'Liberation Serif', serif;" fill="#111" >Ara-C + 2-DG</text>
<text x="183.4" y="268.39" font-size="12" font-weight="bold" style="font-family:'Liberation Sans', sans-serif" fill="#000">G</text>
<rect x="206.8" y="267.4" width="138.3" height="98.3" fill="none" stroke="#a8a8a8" stroke-width="0.9" />
<line x1="204.2" y1="362.9" x2="206.8" y2="362.9" stroke="#bbb" stroke-width="0.8" />
<text transform="translate(199.6,362.9) rotate(-90)" x="0" y="2.12" font-size="6.4" text-anchor="middle" font-weight="bold" style="font-family:'Liberation Serif', serif;" fill="#222" >0</text>
<line x1="204.2" y1="345.4" x2="206.8" y2="345.4" stroke="#bbb" stroke-width="0.8" />
<text transform="translate(199.6,345.4) rotate(-90)" x="0" y="2.12" font-size="6.4" text-anchor="middle" font-weight="bold" style="font-family:'Liberation Serif', serif;" fill="#222" >20</text>
<line x1="204.2" y1="327.9" x2="206.8" y2="327.9" stroke="#bbb" stroke-width="0.8" />
<text transform="translate(199.6,327.9) rotate(-90)" x="0" y="2.12" font-size="6.4" text-anchor="middle" font-weight="bold" style="font-family:'Liberation Serif', serif;" fill="#222" >40</text>
<line x1="204.2" y1="310.4" x2="206.8" y2="310.4" stroke="#bbb" stroke-width="0.8" />
<text transform="translate(199.6,310.4) rotate(-90)" x="0" y="2.12" font-size="6.4" text-anchor="middle" font-weight="bold" style="font-family:'Liberation Serif', serif;" fill="#222" >60</text>
<line x1="204.2" y1="292.9" x2="206.8" y2="292.9" stroke="#bbb" stroke-width="0.8" />
<text transform="translate(199.6,292.9) rotate(-90)" x="0" y="2.12" font-size="6.4" text-anchor="middle" font-weight="bold" style="font-family:'Liberation Serif', serif;" fill="#222" >80</text>
<line x1="204.2" y1="275.4" x2="206.8" y2="275.4" stroke="#bbb" stroke-width="0.8" />
<text transform="translate(199.6,275.4) rotate(-90)" x="0" y="2.12" font-size="6.4" text-anchor="middle" font-weight="bold" style="font-family:'Liberation Serif', serif;" fill="#222" >100</text>
<text transform="translate(188.25,318.7) rotate(-90)" x="0" y="2.95" font-size="8.9" text-anchor="middle" font-weight="bold" style="font-family:'Liberation Serif', serif;" fill="#111" >Cell Viability (%)</text>
<text x="215.8" y="373.18" font-size="6.6" text-anchor="middle" font-weight="bold" style="font-family:'Liberation Serif', serif;" fill="#222" >0</text>
<text x="240" y="373.18" font-size="6.6" text-anchor="middle" font-weight="bold" style="font-family:'Liberation Serif', serif;" fill="#222" >0.15</text>
<text x="262" y="373.18" font-size="6.6" text-anchor="middle" font-weight="bold" style="font-family:'Liberation Serif', serif;" fill="#222" >0.3</text>
<text x="285" y="373.18" font-size="6.6" text-anchor="middle" font-weight="bold" style="font-family:'Liberation Serif', serif;" fill="#222" >0.6</text>
<text x="311.9" y="373.18" font-size="6.6" text-anchor="middle" font-weight="bold" style="font-family:'Liberation Serif', serif;" fill="#222" >1.2</text>
<text x="336.1" y="373.18" font-size="6.6" text-anchor="middle" font-weight="bold" style="font-family:'Liberation Serif', serif;" fill="#222" >2.4</text>
<text x="215.8" y="390.18" font-size="6.6" text-anchor="middle" font-weight="bold" style="font-family:'Liberation Serif', serif;" fill="#222" >0</text>
<text x="240" y="390.18" font-size="6.6" text-anchor="middle" font-weight="bold" style="font-family:'Liberation Serif', serif;" fill="#222" >1.563</text>
<text x="262" y="390.18" font-size="6.6" text-anchor="middle" font-weight="bold" style="font-family:'Liberation Serif', serif;" fill="#222" >3.125</text>
<text x="285.2" y="390.18" font-size="6.6" text-anchor="middle" font-weight="bold" style="font-family:'Liberation Serif', serif;" fill="#222" >6.25</text>
<text x="311.9" y="390.18" font-size="6.6" text-anchor="middle" font-weight="bold" style="font-family:'Liberation Serif', serif;" fill="#222" >12.5</text>
<text x="336.1" y="390.18" font-size="6.6" text-anchor="middle" font-weight="bold" style="font-family:'Liberation Serif', serif;" fill="#222" >25</text>
<text x="276.8" y="382.55" font-size="8.6" text-anchor="middle" font-weight="bold" style="font-family:'Liberation Serif', serif;" fill="#111" >Ara-C (µM)</text>
<text x="276.8" y="398.85" font-size="8.6" text-anchor="middle" font-weight="bold" style="font-family:'Liberation Serif', serif;" fill="#111" >2-DG (mM)</text>
<text x="280.6" y="278.78" font-size="10.5" text-anchor="middle" font-weight="bold" style="font-family:'Liberation Serif', serif;" fill="#111" >OCI-AML3</text>
<polyline points="216.7,275.4 240.4,279.34 264,290.8 288,303.84 312,316.17 335.6,334.02" fill="none" stroke="#a4cce2" stroke-width="1.3" stroke-linejoin="round"/>
<circle cx="216.7" cy="275.4" r="1.3" fill="#78b0d4"/>
<line x1="240.4" y1="277.59" x2="240.4" y2="281.09" stroke="#78b0d4" stroke-width="0.7" />
<line x1="239.2" y1="277.59" x2="241.6" y2="277.59" stroke="#78b0d4" stroke-width="0.7" />
<line x1="239.2" y1="281.09" x2="241.6" y2="281.09" stroke="#78b0d4" stroke-width="0.7" />
<circle cx="240.4" cy="279.34" r="1.3" fill="#78b0d4"/>
<line x1="264" y1="289.05" x2="264" y2="292.55" stroke="#78b0d4" stroke-width="0.7" />
<line x1="262.8" y1="289.05" x2="265.2" y2="289.05" stroke="#78b0d4" stroke-width="0.7" />
<line x1="262.8" y1="292.55" x2="265.2" y2="292.55" stroke="#78b0d4" stroke-width="0.7" />
<circle cx="264" cy="290.8" r="1.3" fill="#78b0d4"/>
<line x1="288" y1="302.52" x2="288" y2="305.15" stroke="#78b0d4" stroke-width="0.7" />
<line x1="286.8" y1="302.52" x2="289.2" y2="302.52" stroke="#78b0d4" stroke-width="0.7" />
<line x1="286.8" y1="305.15" x2="289.2" y2="305.15" stroke="#78b0d4" stroke-width="0.7" />
<circle cx="288" cy="303.84" r="1.3" fill="#78b0d4"/>
<circle cx="312" cy="316.17" r="1.3" fill="#78b0d4"/>
<circle cx="335.6" cy="334.02" r="1.3" fill="#78b0d4"/>
<polyline points="216.7,275.4 240.4,288.52 264,306.72 288,321.77 312,330.52 335.6,334.02" fill="none" stroke="#c47070" stroke-width="1.3" stroke-linejoin="round"/>
<circle cx="216.7" cy="275.4" r="1.3" fill="#a02838"/>
<line x1="240.4" y1="287.21" x2="240.4" y2="289.84" stroke="#a02838" stroke-width="0.7" />
<line x1="239.2" y1="287.21" x2="241.6" y2="287.21" stroke="#a02838" stroke-width="0.7" />
<line x1="239.2" y1="289.84" x2="241.6" y2="289.84" stroke="#a02838" stroke-width="0.7" />
<circle cx="240.4" cy="288.52" r="1.3" fill="#a02838"/>
<line x1="264" y1="304.97" x2="264" y2="308.47" stroke="#a02838" stroke-width="0.7" />
<line x1="262.8" y1="304.97" x2="265.2" y2="304.97" stroke="#a02838" stroke-width="0.7" />
<line x1="262.8" y1="308.47" x2="265.2" y2="308.47" stroke="#a02838" stroke-width="0.7" />
<circle cx="264" cy="306.72" r="1.3" fill="#a02838"/>
<line x1="288" y1="320.46" x2="288" y2="323.09" stroke="#a02838" stroke-width="0.7" />
<line x1="286.8" y1="320.46" x2="289.2" y2="320.46" stroke="#a02838" stroke-width="0.7" />
<line x1="286.8" y1="323.09" x2="289.2" y2="323.09" stroke="#a02838" stroke-width="0.7" />
<circle cx="288" cy="321.77" r="1.3" fill="#a02838"/>
<circle cx="312" cy="330.52" r="1.3" fill="#a02838"/>
<circle cx="335.6" cy="334.02" r="1.3" fill="#a02838"/>
<polyline points="216.7,275.4 240.4,315.91 264,328.86 288,343.65 312,350.04 335.6,351.52" fill="none" stroke="#646464" stroke-width="1.3" stroke-linejoin="round"/>
<circle cx="216.7" cy="275.4" r="1.3" fill="#c8c8c8" stroke="#707070" stroke-width="0.8"/>
<circle cx="240.4" cy="315.91" r="1.3" fill="#c8c8c8" stroke="#707070" stroke-width="0.8"/>
<circle cx="264" cy="328.86" r="1.3" fill="#c8c8c8" stroke="#707070" stroke-width="0.8"/>
<circle cx="288" cy="343.65" r="1.3" fill="#c8c8c8" stroke="#707070" stroke-width="0.8"/>
<circle cx="312" cy="350.04" r="1.3" fill="#c8c8c8" stroke="#707070" stroke-width="0.8"/>
<circle cx="335.6" cy="351.52" r="1.3" fill="#c8c8c8" stroke="#707070" stroke-width="0.8"/>
<line x1="217" y1="343.6" x2="224" y2="343.6" stroke="#a4cce2" stroke-width="1.2" />
<circle cx="220.5" cy="343.6" r="1.3" fill="#78b0d4"/>
<text x="227.4" y="345.92" font-size="7" text-anchor="start" font-weight="bold" style="font-family:'Liberation Serif', serif;" fill="#111" >Ara-C</text>
<line x1="217" y1="349.6" x2="224" y2="349.6" stroke="#c47070" stroke-width="1.2" />
<circle cx="220.5" cy="349.6" r="1.3" fill="#a02838"/>
<text x="227.4" y="351.92" font-size="7" text-anchor="start" font-weight="bold" style="font-family:'Liberation Serif', serif;" fill="#111" >2-DG</text>
<line x1="217" y1="355.7" x2="224" y2="355.7" stroke="#646464" stroke-width="1.2" />
<circle cx="220.5" cy="355.7" r="1.3" fill="#c8c8c8" stroke="#707070" stroke-width="0.8"/>
<text x="227.4" y="358.02" font-size="7" text-anchor="start" font-weight="bold" style="font-family:'Liberation Serif', serif;" fill="#111" >Ara-C + 2-DG</text>
<text x="365.6" y="268.59" font-size="12" font-weight="bold" style="font-family:'Liberation Sans', sans-serif" fill="#000">H</text>
<rect x="388.9" y="267.5" width="129.6" height="97.7" fill="none" stroke="#a8a8a8" stroke-width="0.9" />
<line x1="386.3" y1="362" x2="388.9" y2="362" stroke="#bbb" stroke-width="0.8" />
<text transform="translate(382.1,362) rotate(-90)" x="0" y="2.12" font-size="6.4" text-anchor="middle" font-weight="bold" style="font-family:'Liberation Serif', serif;" fill="#222" >0</text>
<line x1="386.3" y1="344.54" x2="388.9" y2="344.54" stroke="#bbb" stroke-width="0.8" />
<text transform="translate(382.1,344.54) rotate(-90)" x="0" y="2.12" font-size="6.4" text-anchor="middle" font-weight="bold" style="font-family:'Liberation Serif', serif;" fill="#222" >20</text>
<line x1="386.3" y1="327.08" x2="388.9" y2="327.08" stroke="#bbb" stroke-width="0.8" />
<text transform="translate(382.1,327.08) rotate(-90)" x="0" y="2.12" font-size="6.4" text-anchor="middle" font-weight="bold" style="font-family:'Liberation Serif', serif;" fill="#222" >40</text>
<line x1="386.3" y1="309.62" x2="388.9" y2="309.62" stroke="#bbb" stroke-width="0.8" />
<text transform="translate(382.1,309.62) rotate(-90)" x="0" y="2.12" font-size="6.4" text-anchor="middle" font-weight="bold" style="font-family:'Liberation Serif', serif;" fill="#222" >60</text>
<line x1="386.3" y1="292.16" x2="388.9" y2="292.16" stroke="#bbb" stroke-width="0.8" />
<text transform="translate(382.1,292.16) rotate(-90)" x="0" y="2.12" font-size="6.4" text-anchor="middle" font-weight="bold" style="font-family:'Liberation Serif', serif;" fill="#222" >80</text>
<line x1="386.3" y1="274.7" x2="388.9" y2="274.7" stroke="#bbb" stroke-width="0.8" />
<text transform="translate(382.1,274.7) rotate(-90)" x="0" y="2.12" font-size="6.4" text-anchor="middle" font-weight="bold" style="font-family:'Liberation Serif', serif;" fill="#222" >100</text>
<text transform="translate(370.05,319.1) rotate(-90)" x="0" y="2.95" font-size="8.9" text-anchor="middle" font-weight="bold" style="font-family:'Liberation Serif', serif;" fill="#111" >Cell Viability (%)</text>
<text x="389.3" y="374.28" font-size="6.6" text-anchor="middle" font-weight="bold" style="font-family:'Liberation Serif', serif;" fill="#222" >0</text>
<text x="420" y="374.28" font-size="6.6" text-anchor="middle" font-weight="bold" style="font-family:'Liberation Serif', serif;" fill="#222" >0.031</text>
<text x="442.2" y="374.28" font-size="6.6" text-anchor="middle" font-weight="bold" style="font-family:'Liberation Serif', serif;" fill="#222" >0.063</text>
<text x="464.5" y="374.28" font-size="6.6" text-anchor="middle" font-weight="bold" style="font-family:'Liberation Serif', serif;" fill="#222" >0.125</text>
<text x="486.7" y="374.28" font-size="6.6" text-anchor="middle" font-weight="bold" style="font-family:'Liberation Serif', serif;" fill="#222" >0.25</text>
<text x="509.5" y="374.28" font-size="6.6" text-anchor="middle" font-weight="bold" style="font-family:'Liberation Serif', serif;" fill="#222" >0.5</text>
<text x="389.3" y="390.48" font-size="6.6" text-anchor="middle" font-weight="bold" style="font-family:'Liberation Serif', serif;" fill="#222" >0</text>
<text x="420" y="390.48" font-size="6.6" text-anchor="middle" font-weight="bold" style="font-family:'Liberation Serif', serif;" fill="#222" >0.375</text>
<text x="442.2" y="390.48" font-size="6.6" text-anchor="middle" font-weight="bold" style="font-family:'Liberation Serif', serif;" fill="#222" >0.75</text>
<text x="464.5" y="390.48" font-size="6.6" text-anchor="middle" font-weight="bold" style="font-family:'Liberation Serif', serif;" fill="#222" >1.5</text>
<text x="486.7" y="390.48" font-size="6.6" text-anchor="middle" font-weight="bold" style="font-family:'Liberation Serif', serif;" fill="#222" >3</text>
<text x="509.5" y="390.48" font-size="6.6" text-anchor="middle" font-weight="bold" style="font-family:'Liberation Serif', serif;" fill="#222" >6</text>
<text x="447.7" y="383.05" font-size="8.6" text-anchor="middle" font-weight="bold" style="font-family:'Liberation Serif', serif;" fill="#111" >Ara-C (µM)</text>
<text x="447" y="398.05" font-size="8.6" text-anchor="middle" font-weight="bold" style="font-family:'Liberation Serif', serif;" fill="#111" >2-DG (mM)</text>
<text x="456.7" y="278.48" font-size="10.5" text-anchor="middle" font-weight="bold" style="font-family:'Liberation Serif', serif;" fill="#111" >HL-60</text>
<polyline points="397.6,274.7 420,296.09 442.2,302.64 464.5,311.8 486.7,331.18 509.5,347.68" fill="none" stroke="#a4cce2" stroke-width="1.3" stroke-linejoin="round"/>
<line x1="397.6" y1="272.95" x2="397.6" y2="276.45" stroke="#78b0d4" stroke-width="0.7" />
<line x1="396.4" y1="272.95" x2="398.8" y2="272.95" stroke="#78b0d4" stroke-width="0.7" />
<line x1="396.4" y1="276.45" x2="398.8" y2="276.45" stroke="#78b0d4" stroke-width="0.7" />
<circle cx="397.6" cy="274.7" r="1.3" fill="#78b0d4"/>
<circle cx="420" cy="296.09" r="1.3" fill="#78b0d4"/>
<circle cx="442.2" cy="302.64" r="1.3" fill="#78b0d4"/>
<circle cx="464.5" cy="311.8" r="1.3" fill="#78b0d4"/>
<line x1="486.7" y1="329.44" x2="486.7" y2="332.93" stroke="#78b0d4" stroke-width="0.7" />
<line x1="485.5" y1="329.44" x2="487.9" y2="329.44" stroke="#78b0d4" stroke-width="0.7" />
<line x1="485.5" y1="332.93" x2="487.9" y2="332.93" stroke="#78b0d4" stroke-width="0.7" />
<circle cx="486.7" cy="331.18" r="1.3" fill="#78b0d4"/>
<circle cx="509.5" cy="347.68" r="1.3" fill="#78b0d4"/>
<polyline points="397.6,274.7 420,300.72 442.2,319.75 464.5,335.64 486.7,346.11 509.5,346.11" fill="none" stroke="#c47070" stroke-width="1.3" stroke-linejoin="round"/>
<circle cx="397.6" cy="274.7" r="1.3" fill="#a02838"/>
<line x1="420" y1="298.97" x2="420" y2="302.46" stroke="#a02838" stroke-width="0.7" />
<line x1="418.8" y1="298.97" x2="421.2" y2="298.97" stroke="#a02838" stroke-width="0.7" />
<line x1="418.8" y1="302.46" x2="421.2" y2="302.46" stroke="#a02838" stroke-width="0.7" />
<circle cx="420" cy="300.72" r="1.3" fill="#a02838"/>
<circle cx="442.2" cy="319.75" r="1.3" fill="#a02838"/>
<circle cx="464.5" cy="335.64" r="1.3" fill="#a02838"/>
<circle cx="486.7" cy="346.11" r="1.3" fill="#a02838"/>
<line x1="509.5" y1="344.37" x2="509.5" y2="347.86" stroke="#a02838" stroke-width="0.7" />
<line x1="508.3" y1="344.37" x2="510.7" y2="344.37" stroke="#a02838" stroke-width="0.7" />
<line x1="508.3" y1="347.86" x2="510.7" y2="347.86" stroke="#a02838" stroke-width="0.7" />
<circle cx="509.5" cy="346.11" r="1.3" fill="#a02838"/>
<polyline points="397.6,274.7 420,315.21 442.2,352.92 464.5,360.25 486.7,361.3 509.5,360.69" fill="none" stroke="#646464" stroke-width="1.3" stroke-linejoin="round"/>
<circle cx="397.6" cy="274.7" r="1.3" fill="#c8c8c8" stroke="#707070" stroke-width="0.8"/>
<circle cx="420" cy="315.21" r="1.3" fill="#c8c8c8" stroke="#707070" stroke-width="0.8"/>
<circle cx="442.2" cy="352.92" r="1.3" fill="#c8c8c8" stroke="#707070" stroke-width="0.8"/>
<circle cx="464.5" cy="360.25" r="1.3" fill="#c8c8c8" stroke="#707070" stroke-width="0.8"/>
<circle cx="486.7" cy="361.3" r="1.3" fill="#c8c8c8" stroke="#707070" stroke-width="0.8"/>
<circle cx="509.5" cy="360.69" r="1.3" fill="#c8c8c8" stroke="#707070" stroke-width="0.8"/>
<line x1="396" y1="342.9" x2="403" y2="342.9" stroke="#a4cce2" stroke-width="1.2" />
<circle cx="399.5" cy="342.9" r="1.3" fill="#78b0d4"/>
<text x="407.3" y="345.22" font-size="7" text-anchor="start" font-weight="bold" style="font-family:'Liberation Serif', serif;" fill="#111" >Ara-C</text>
<line x1="396" y1="349.2" x2="403" y2="349.2" stroke="#c47070" stroke-width="1.2" />
<circle cx="399.5" cy="349.2" r="1.3" fill="#a02838"/>
<text x="407.3" y="351.52" font-size="7" text-anchor="start" font-weight="bold" style="font-family:'Liberation Serif', serif;" fill="#111" >2-DG</text>
<line x1="396" y1="356.5" x2="403" y2="356.5" stroke="#646464" stroke-width="1.2" />
<circle cx="399.5" cy="356.5" r="1.3" fill="#c8c8c8" stroke="#707070" stroke-width="0.8"/>
<text x="407.3" y="358.82" font-size="7" text-anchor="start" font-weight="bold" style="font-family:'Liberation Serif', serif;" fill="#111" >Ara-C + 2-DG</text>
<text x="0.8" y="412.59" font-size="12" font-weight="bold" style="font-family:'Liberation Sans', sans-serif" fill="#000">I</text>
<rect x="24" y="412.4" width="134.4" height="97.4" fill="none" stroke="#a8a8a8" stroke-width="0.9" />
<line x1="21.4" y1="507" x2="24" y2="507" stroke="#bbb" stroke-width="0.8" />
<text transform="translate(16.8,507) rotate(-90)" x="0" y="2.12" font-size="6.4" text-anchor="middle" font-weight="bold" style="font-family:'Liberation Serif', serif;" fill="#222" >0</text>
<line x1="21.4" y1="489.7" x2="24" y2="489.7" stroke="#bbb" stroke-width="0.8" />
<text transform="translate(16.8,489.7) rotate(-90)" x="0" y="2.12" font-size="6.4" text-anchor="middle" font-weight="bold" style="font-family:'Liberation Serif', serif;" fill="#222" >20</text>
<line x1="21.4" y1="472.4" x2="24" y2="472.4" stroke="#bbb" stroke-width="0.8" />
<text transform="translate(16.8,472.4) rotate(-90)" x="0" y="2.12" font-size="6.4" text-anchor="middle" font-weight="bold" style="font-family:'Liberation Serif', serif;" fill="#222" >40</text>
<line x1="21.4" y1="455.1" x2="24" y2="455.1" stroke="#bbb" stroke-width="0.8" />
<text transform="translate(16.8,455.1) rotate(-90)" x="0" y="2.12" font-size="6.4" text-anchor="middle" font-weight="bold" style="font-family:'Liberation Serif', serif;" fill="#222" >60</text>
<line x1="21.4" y1="437.8" x2="24" y2="437.8" stroke="#bbb" stroke-width="0.8" />
<text transform="translate(16.8,437.8) rotate(-90)" x="0" y="2.12" font-size="6.4" text-anchor="middle" font-weight="bold" style="font-family:'Liberation Serif', serif;" fill="#222" >80</text>
<line x1="21.4" y1="420.5" x2="24" y2="420.5" stroke="#bbb" stroke-width="0.8" />
<text transform="translate(16.8,420.5) rotate(-90)" x="0" y="2.12" font-size="6.4" text-anchor="middle" font-weight="bold" style="font-family:'Liberation Serif', serif;" fill="#222" >100</text>
<text transform="translate(4.6,462.5) rotate(-90)" x="0" y="2.95" font-size="8.9" text-anchor="middle" font-weight="bold" style="font-family:'Liberation Serif', serif;" fill="#111" >Cell Viability (%)</text>
<text x="33.6" y="517.38" font-size="6.6" text-anchor="middle" font-weight="bold" style="font-family:'Liberation Serif', serif;" fill="#222" >0</text>
<text x="56.6" y="517.38" font-size="6.6" text-anchor="middle" font-weight="bold" style="font-family:'Liberation Serif', serif;" fill="#222" >0.25</text>
<text x="80" y="517.38" font-size="6.6" text-anchor="middle" font-weight="bold" style="font-family:'Liberation Serif', serif;" fill="#222" >0.5</text>
<text x="103.6" y="517.38" font-size="6.6" text-anchor="middle" font-weight="bold" style="font-family:'Liberation Serif', serif;" fill="#222" >1</text>
<text x="126.7" y="517.38" font-size="6.6" text-anchor="middle" font-weight="bold" style="font-family:'Liberation Serif', serif;" fill="#222" >2</text>
<text x="149.8" y="517.38" font-size="6.6" text-anchor="middle" font-weight="bold" style="font-family:'Liberation Serif', serif;" fill="#222" >4</text>
<text x="33.6" y="533.48" font-size="6.6" text-anchor="middle" font-weight="bold" style="font-family:'Liberation Serif', serif;" fill="#222" >0</text>
<text x="56.6" y="533.48" font-size="6.6" text-anchor="middle" font-weight="bold" style="font-family:'Liberation Serif', serif;" fill="#222" >0.625</text>
<text x="80" y="533.48" font-size="6.6" text-anchor="middle" font-weight="bold" style="font-family:'Liberation Serif', serif;" fill="#222" >1.25</text>
<text x="103.6" y="533.48" font-size="6.6" text-anchor="middle" font-weight="bold" style="font-family:'Liberation Serif', serif;" fill="#222" >2.5</text>
<text x="126.7" y="533.48" font-size="6.6" text-anchor="middle" font-weight="bold" style="font-family:'Liberation Serif', serif;" fill="#222" >5</text>
<text x="149.8" y="533.48" font-size="6.6" text-anchor="middle" font-weight="bold" style="font-family:'Liberation Serif', serif;" fill="#222" >10</text>
<text x="97" y="526.15" font-size="8.6" text-anchor="middle" font-weight="bold" style="font-family:'Liberation Serif', serif;" fill="#111" >Ara-C (µM)</text>
<text x="97" y="542.25" font-size="8.6" text-anchor="middle" font-weight="bold" style="font-family:'Liberation Serif', serif;" fill="#111" >2-DG (mM)</text>
<text x="97.9" y="423.03" font-size="10.5" text-anchor="middle" font-weight="bold" style="font-family:'Liberation Serif', serif;" fill="#111" >KG-1</text>
<polyline points="33.6,420.5 56.6,422.92 80,429.5 103.6,439.62 126.7,454.58 149.8,471.88" fill="none" stroke="#a4cce2" stroke-width="1.3" stroke-linejoin="round"/>
<circle cx="33.6" cy="420.5" r="1.3" fill="#78b0d4"/>
<line x1="56.6" y1="420.33" x2="56.6" y2="425.52" stroke="#78b0d4" stroke-width="0.7" />
<line x1="55.4" y1="420.33" x2="57.8" y2="420.33" stroke="#78b0d4" stroke-width="0.7" />
<line x1="55.4" y1="425.52" x2="57.8" y2="425.52" stroke="#78b0d4" stroke-width="0.7" />
<circle cx="56.6" cy="422.92" r="1.3" fill="#78b0d4"/>
<circle cx="80" cy="429.5" r="1.3" fill="#78b0d4"/>
<circle cx="103.6" cy="439.62" r="1.3" fill="#78b0d4"/>
<circle cx="126.7" cy="454.58" r="1.3" fill="#78b0d4"/>
<line x1="149.8" y1="467.56" x2="149.8" y2="476.21" stroke="#78b0d4" stroke-width="0.7" />
<line x1="148.6" y1="467.56" x2="151" y2="467.56" stroke="#78b0d4" stroke-width="0.7" />
<line x1="148.6" y1="476.21" x2="151" y2="476.21" stroke="#78b0d4" stroke-width="0.7" />
<circle cx="149.8" cy="471.88" r="1.3" fill="#78b0d4"/>
<polyline points="33.6,420.5 56.6,436.24 80,451.12 103.6,470.5 126.7,478.02 149.8,485.81" fill="none" stroke="#c47070" stroke-width="1.3" stroke-linejoin="round"/>
<circle cx="33.6" cy="420.5" r="1.3" fill="#a02838"/>
<circle cx="56.6" cy="436.24" r="1.3" fill="#a02838"/>
<line x1="80" y1="449.39" x2="80" y2="452.85" stroke="#a02838" stroke-width="0.7" />
<line x1="78.8" y1="449.39" x2="81.2" y2="449.39" stroke="#a02838" stroke-width="0.7" />
<line x1="78.8" y1="452.85" x2="81.2" y2="452.85" stroke="#a02838" stroke-width="0.7" />
<circle cx="80" cy="451.12" r="1.3" fill="#a02838"/>
<circle cx="103.6" cy="470.5" r="1.3" fill="#a02838"/>
<circle cx="126.7" cy="478.02" r="1.3" fill="#a02838"/>
<circle cx="149.8" cy="485.81" r="1.3" fill="#a02838"/>
<polyline points="33.6,420.5 56.6,445.41 80,457.52 103.6,480.01 126.7,487.97 149.8,493.77" fill="none" stroke="#646464" stroke-width="1.3" stroke-linejoin="round"/>
<circle cx="33.6" cy="420.5" r="1.3" fill="#c8c8c8" stroke="#707070" stroke-width="0.8"/>
<circle cx="56.6" cy="445.41" r="1.3" fill="#c8c8c8" stroke="#707070" stroke-width="0.8"/>
<line x1="80" y1="454.06" x2="80" y2="460.98" stroke="#707070" stroke-width="0.7" />
<line x1="78.8" y1="454.06" x2="81.2" y2="454.06" stroke="#707070" stroke-width="0.7" />
<line x1="78.8" y1="460.98" x2="81.2" y2="460.98" stroke="#707070" stroke-width="0.7" />
<circle cx="80" cy="457.52" r="1.3" fill="#c8c8c8" stroke="#707070" stroke-width="0.8"/>
<circle cx="103.6" cy="480.01" r="1.3" fill="#c8c8c8" stroke="#707070" stroke-width="0.8"/>
<circle cx="126.7" cy="487.97" r="1.3" fill="#c8c8c8" stroke="#707070" stroke-width="0.8"/>
<circle cx="149.8" cy="493.77" r="1.3" fill="#c8c8c8" stroke="#707070" stroke-width="0.8"/>
<line x1="35" y1="487.2" x2="42" y2="487.2" stroke="#a4cce2" stroke-width="1.2" />
<circle cx="38.5" cy="487.2" r="1.3" fill="#78b0d4"/>
<text x="44.6" y="489.52" font-size="7" text-anchor="start" font-weight="bold" style="font-family:'Liberation Serif', serif;" fill="#111" >Ara-C</text>
<line x1="35" y1="494.4" x2="42" y2="494.4" stroke="#c47070" stroke-width="1.2" />
<circle cx="38.5" cy="494.4" r="1.3" fill="#a02838"/>
<text x="44.6" y="496.72" font-size="7" text-anchor="start" font-weight="bold" style="font-family:'Liberation Serif', serif;" fill="#111" >2-DG</text>
<line x1="35" y1="501.6" x2="42" y2="501.6" stroke="#646464" stroke-width="1.2" />
<circle cx="38.5" cy="501.6" r="1.3" fill="#c8c8c8" stroke="#707070" stroke-width="0.8"/>
<text x="44.6" y="503.92" font-size="7" text-anchor="start" font-weight="bold" style="font-family:'Liberation Serif', serif;" fill="#111" >Ara-C + 2-DG</text>
<text x="183.3" y="413.19" font-size="12" font-weight="bold" style="font-family:'Liberation Sans', sans-serif" fill="#000">J</text>
<rect x="207" y="411.6" width="138.1" height="98.2" fill="none" stroke="#a8a8a8" stroke-width="0.9" />
<line x1="204.4" y1="506.6" x2="207" y2="506.6" stroke="#bbb" stroke-width="0.8" />
<text transform="translate(200,506.6) rotate(-90)" x="0" y="2.12" font-size="6.4" text-anchor="middle" font-weight="bold" style="font-family:'Liberation Serif', serif;" fill="#222" >0</text>
<line x1="204.4" y1="489.3" x2="207" y2="489.3" stroke="#bbb" stroke-width="0.8" />
<text transform="translate(200,489.3) rotate(-90)" x="0" y="2.12" font-size="6.4" text-anchor="middle" font-weight="bold" style="font-family:'Liberation Serif', serif;" fill="#222" >20</text>
<line x1="204.4" y1="472" x2="207" y2="472" stroke="#bbb" stroke-width="0.8" />
<text transform="translate(200,472) rotate(-90)" x="0" y="2.12" font-size="6.4" text-anchor="middle" font-weight="bold" style="font-family:'Liberation Serif', serif;" fill="#222" >40</text>
<line x1="204.4" y1="454.7" x2="207" y2="454.7" stroke="#bbb" stroke-width="0.8" />
<text transform="translate(200,454.7) rotate(-90)" x="0" y="2.12" font-size="6.4" text-anchor="middle" font-weight="bold" style="font-family:'Liberation Serif', serif;" fill="#222" >60</text>
<line x1="204.4" y1="437.4" x2="207" y2="437.4" stroke="#bbb" stroke-width="0.8" />
<text transform="translate(200,437.4) rotate(-90)" x="0" y="2.12" font-size="6.4" text-anchor="middle" font-weight="bold" style="font-family:'Liberation Serif', serif;" fill="#222" >80</text>
<line x1="204.4" y1="420.1" x2="207" y2="420.1" stroke="#bbb" stroke-width="0.8" />
<text transform="translate(200,420.1) rotate(-90)" x="0" y="2.12" font-size="6.4" text-anchor="middle" font-weight="bold" style="font-family:'Liberation Serif', serif;" fill="#222" >100</text>
<text transform="translate(189.25,462) rotate(-90)" x="0" y="2.95" font-size="8.9" text-anchor="middle" font-weight="bold" style="font-family:'Liberation Serif', serif;" fill="#111" >Cell Viability (%)</text>
<text x="216.4" y="518.38" font-size="6.6" text-anchor="middle" font-weight="bold" style="font-family:'Liberation Serif', serif;" fill="#222" >0</text>
<text x="240.4" y="518.38" font-size="6.6" text-anchor="middle" font-weight="bold" style="font-family:'Liberation Serif', serif;" fill="#222" >0.01</text>
<text x="264" y="518.38" font-size="6.6" text-anchor="middle" font-weight="bold" style="font-family:'Liberation Serif', serif;" fill="#222" >0.2</text>
<text x="288" y="518.38" font-size="6.6" text-anchor="middle" font-weight="bold" style="font-family:'Liberation Serif', serif;" fill="#222" >0.4</text>
<text x="311.9" y="518.38" font-size="6.6" text-anchor="middle" font-weight="bold" style="font-family:'Liberation Serif', serif;" fill="#222" >2</text>
<text x="335.6" y="518.38" font-size="6.6" text-anchor="middle" font-weight="bold" style="font-family:'Liberation Serif', serif;" fill="#222" >10</text>
<text x="277.2" y="529.85" font-size="8.6" text-anchor="middle" font-weight="bold" style="font-family:'Liberation Serif', serif;" fill="#111" >2-DG (mM)</text>
<polyline points="216.4,420.1 240.4,421.4 264,431 288,445.44 311.9,482.9 335.6,500.98" fill="none" stroke="#9cd0e8" stroke-width="1.3" stroke-linejoin="round"/>
<circle cx="216.4" cy="420.1" r="1.3" fill="#6ab0d8"/>
<circle cx="240.4" cy="421.4" r="1.3" fill="#6ab0d8"/>
<circle cx="264" cy="431" r="1.3" fill="#6ab0d8"/>
<circle cx="288" cy="445.44" r="1.3" fill="#6ab0d8"/>
<circle cx="311.9" cy="482.9" r="1.3" fill="#6ab0d8"/>
<circle cx="335.6" cy="500.98" r="1.3" fill="#6ab0d8"/>
<polyline points="216.4,420.1 240.4,419.41 264,424.6 288,439.65 311.9,480.65 335.6,487.22" fill="none" stroke="#e4a8cc" stroke-width="1.3" stroke-linejoin="round"/>
<rect x="215.1" y="418.8" width="2.6" height="2.6" fill="#d890c0"/>
<rect x="239.1" y="418.11" width="2.6" height="2.6" fill="#d890c0"/>
<rect x="262.7" y="423.3" width="2.6" height="2.6" fill="#d890c0"/>
<rect x="286.7" y="438.35" width="2.6" height="2.6" fill="#d890c0"/>
<rect x="310.6" y="479.35" width="2.6" height="2.6" fill="#d890c0"/>
<rect x="334.3" y="485.92" width="2.6" height="2.6" fill="#d890c0"/>
<polyline points="216.4,420.1 240.4,414.48 264,431.52 288,446.22 311.9,482.03 335.6,490.42" fill="none" stroke="#303030" stroke-width="1.3" stroke-linejoin="round"/>
<circle cx="216.4" cy="420.1" r="1.3" fill="#000"/>
<circle cx="240.4" cy="414.48" r="1.3" fill="#000"/>
<circle cx="264" cy="431.52" r="1.3" fill="#000"/>
<circle cx="288" cy="446.22" r="1.3" fill="#000"/>
<circle cx="311.9" cy="482.03" r="1.3" fill="#000"/>
<circle cx="335.6" cy="490.42" r="1.3" fill="#000"/>
<line x1="218" y1="487.2" x2="226" y2="487.2" stroke="#9cd0e8" stroke-width="1.2" />
<circle cx="222" cy="487.2" r="1.3" fill="#6ab0d8"/>
<text x="228.8" y="489.52" font-size="7" text-anchor="start" font-weight="bold" style="font-family:'Liberation Serif', serif;" fill="#111" >Patient 1</text>
<line x1="218" y1="494.4" x2="226" y2="494.4" stroke="#e4a8cc" stroke-width="1.2" />
<rect x="220.7" y="493.1" width="2.6" height="2.6" fill="#d890c0"/>
<text x="228.8" y="496.72" font-size="7" text-anchor="start" font-weight="bold" style="font-family:'Liberation Serif', serif;" fill="#111" >Patient 2</text>
<line x1="218" y1="502.2" x2="226" y2="502.2" stroke="#303030" stroke-width="1.2" />
<circle cx="222" cy="502.2" r="1.3" fill="#000"/>
<text x="228.8" y="504.52" font-size="7" text-anchor="start" font-weight="bold" style="font-family:'Liberation Serif', serif;" fill="#111" >Patient 3</text>
<text x="364.8" y="412.39" font-size="12" font-weight="bold" style="font-family:'Liberation Sans', sans-serif" fill="#000">K</text>
<rect x="388.5" y="411.8" width="130.1" height="98.1" fill="none" stroke="#a8a8a8" stroke-width="0.9" />
<line x1="385.9" y1="505.6" x2="388.5" y2="505.6" stroke="#bbb" stroke-width="0.8" />
<text transform="translate(382.4,505.6) rotate(-90)" x="0" y="2.12" font-size="6.4" text-anchor="middle" font-weight="bold" style="font-family:'Liberation Serif', serif;" fill="#222" >0</text>
<line x1="385.9" y1="488.42" x2="388.5" y2="488.42" stroke="#bbb" stroke-width="0.8" />
<text transform="translate(382.4,488.42) rotate(-90)" x="0" y="2.12" font-size="6.4" text-anchor="middle" font-weight="bold" style="font-family:'Liberation Serif', serif;" fill="#222" >20</text>
<line x1="385.9" y1="471.24" x2="388.5" y2="471.24" stroke="#bbb" stroke-width="0.8" />
<text transform="translate(382.4,471.24) rotate(-90)" x="0" y="2.12" font-size="6.4" text-anchor="middle" font-weight="bold" style="font-family:'Liberation Serif', serif;" fill="#222" >40</text>
<line x1="385.9" y1="454.06" x2="388.5" y2="454.06" stroke="#bbb" stroke-width="0.8" />
<text transform="translate(382.4,454.06) rotate(-90)" x="0" y="2.12" font-size="6.4" text-anchor="middle" font-weight="bold" style="font-family:'Liberation Serif', serif;" fill="#222" >60</text>
<line x1="385.9" y1="436.88" x2="388.5" y2="436.88" stroke="#bbb" stroke-width="0.8" />
<text transform="translate(382.4,436.88) rotate(-90)" x="0" y="2.12" font-size="6.4" text-anchor="middle" font-weight="bold" style="font-family:'Liberation Serif', serif;" fill="#222" >80</text>
<line x1="385.9" y1="419.7" x2="388.5" y2="419.7" stroke="#bbb" stroke-width="0.8" />
<text transform="translate(382.4,419.7) rotate(-90)" x="0" y="2.12" font-size="6.4" text-anchor="middle" font-weight="bold" style="font-family:'Liberation Serif', serif;" fill="#222" >100</text>
<text transform="translate(369.25,473) rotate(-90)" x="0" y="2.95" font-size="8.9" text-anchor="middle" font-weight="bold" style="font-family:'Liberation Serif', serif;" fill="#111" >Cell Viability (%)</text>
<text x="388.3" y="517.98" font-size="6.6" text-anchor="middle" font-weight="bold" style="font-family:'Liberation Serif', serif;" fill="#222" >0</text>
<text x="420" y="517.98" font-size="6.6" text-anchor="middle" font-weight="bold" style="font-family:'Liberation Serif', serif;" fill="#222" >0.625</text>
<text x="442.2" y="517.98" font-size="6.6" text-anchor="middle" font-weight="bold" style="font-family:'Liberation Serif', serif;" fill="#222" >1.25</text>
<text x="465.4" y="517.98" font-size="6.6" text-anchor="middle" font-weight="bold" style="font-family:'Liberation Serif', serif;" fill="#222" >2.5</text>
<text x="487.6" y="517.98" font-size="6.6" text-anchor="middle" font-weight="bold" style="font-family:'Liberation Serif', serif;" fill="#222" >5</text>
<text x="510.5" y="517.98" font-size="6.6" text-anchor="middle" font-weight="bold" style="font-family:'Liberation Serif', serif;" fill="#222" >10</text>
<text x="452.5" y="529.75" font-size="8.6" text-anchor="middle" font-weight="bold" style="font-family:'Liberation Serif', serif;" fill="#111" >DCA (mM)</text>
<polyline points="396.7,419.01 420,427.86 442.2,426.23 465.4,427.6 487.6,444.35 510.5,494.43" fill="none" stroke="#9cd0e8" stroke-width="1.3" stroke-linejoin="round"/>
<circle cx="396.7" cy="419.01" r="1.3" fill="#6ab0d8"/>
<circle cx="420" cy="427.86" r="1.3" fill="#6ab0d8"/>
<circle cx="442.2" cy="426.23" r="1.3" fill="#6ab0d8"/>
<circle cx="465.4" cy="427.6" r="1.3" fill="#6ab0d8"/>
<circle cx="487.6" cy="444.35" r="1.3" fill="#6ab0d8"/>
<circle cx="510.5" cy="494.43" r="1.3" fill="#6ab0d8"/>
<polyline points="396.7,420.99 420,422.19 442.2,426.92 465.4,435.42 487.6,465.66 510.5,500.88" fill="none" stroke="#e4a8cc" stroke-width="1.3" stroke-linejoin="round"/>
<rect x="395.4" y="419.69" width="2.6" height="2.6" fill="#d890c0"/>
<rect x="418.7" y="420.89" width="2.6" height="2.6" fill="#d890c0"/>
<rect x="440.9" y="425.62" width="2.6" height="2.6" fill="#d890c0"/>
<rect x="464.1" y="434.12" width="2.6" height="2.6" fill="#d890c0"/>
<rect x="486.3" y="464.36" width="2.6" height="2.6" fill="#d890c0"/>
<rect x="509.2" y="499.58" width="2.6" height="2.6" fill="#d890c0"/>
<polyline points="396.7,419.7 420,420.04 442.2,419.01 465.4,430.09 487.6,454.58 510.5,501.48" fill="none" stroke="#303030" stroke-width="1.3" stroke-linejoin="round"/>
<circle cx="396.7" cy="419.7" r="1.3" fill="#000"/>
<circle cx="420" cy="420.04" r="1.3" fill="#000"/>
<circle cx="442.2" cy="419.01" r="1.3" fill="#000"/>
<circle cx="465.4" cy="430.09" r="1.3" fill="#000"/>
<circle cx="487.6" cy="454.58" r="1.3" fill="#000"/>
<circle cx="510.5" cy="501.48" r="1.3" fill="#000"/>
<line x1="398" y1="485.7" x2="406" y2="485.7" stroke="#9cd0e8" stroke-width="1.2" />
<circle cx="402" cy="485.7" r="1.3" fill="#6ab0d8"/>
<text x="409.6" y="488.02" font-size="7" text-anchor="start" font-weight="bold" style="font-family:'Liberation Serif', serif;" fill="#111" >Patient 1</text>
<line x1="398" y1="493.6" x2="406" y2="493.6" stroke="#e4a8cc" stroke-width="1.2" />
<rect x="400.7" y="492.3" width="2.6" height="2.6" fill="#d890c0"/>
<text x="409.6" y="495.92" font-size="7" text-anchor="start" font-weight="bold" style="font-family:'Liberation Serif', serif;" fill="#111" >Patient 2</text>
<line x1="398" y1="500.9" x2="406" y2="500.9" stroke="#303030" stroke-width="1.2" />
<circle cx="402" cy="500.9" r="1.3" fill="#000"/>
<text x="409.6" y="503.22" font-size="7" text-anchor="start" font-weight="bold" style="font-family:'Liberation Serif', serif;" fill="#111" >Patient 3</text>
<text x="0.8" y="555.59" font-size="12" font-weight="bold" style="font-family:'Liberation Sans', sans-serif" fill="#000">L</text>
<rect x="24.5" y="555.3" width="134.5" height="96.8" fill="none" stroke="#a8a8a8" stroke-width="0.9" />
<line x1="21.9" y1="649.2" x2="24.5" y2="649.2" stroke="#bbb" stroke-width="0.8" />
<text transform="translate(16,649.2) rotate(-90)" x="0" y="2.12" font-size="6.4" text-anchor="middle" font-weight="bold" style="font-family:'Liberation Serif', serif;" fill="#222" >0</text>
<line x1="21.9" y1="631.9" x2="24.5" y2="631.9" stroke="#bbb" stroke-width="0.8" />
<text transform="translate(16,631.9) rotate(-90)" x="0" y="2.12" font-size="6.4" text-anchor="middle" font-weight="bold" style="font-family:'Liberation Serif', serif;" fill="#222" >20</text>
<line x1="21.9" y1="614.6" x2="24.5" y2="614.6" stroke="#bbb" stroke-width="0.8" />
<text transform="translate(16,614.6) rotate(-90)" x="0" y="2.12" font-size="6.4" text-anchor="middle" font-weight="bold" style="font-family:'Liberation Serif', serif;" fill="#222" >40</text>
<line x1="21.9" y1="597.3" x2="24.5" y2="597.3" stroke="#bbb" stroke-width="0.8" />
<text transform="translate(16,597.3) rotate(-90)" x="0" y="2.12" font-size="6.4" text-anchor="middle" font-weight="bold" style="font-family:'Liberation Serif', serif;" fill="#222" >60</text>
<line x1="21.9" y1="580" x2="24.5" y2="580" stroke="#bbb" stroke-width="0.8" />
<text transform="translate(16,580) rotate(-90)" x="0" y="2.12" font-size="6.4" text-anchor="middle" font-weight="bold" style="font-family:'Liberation Serif', serif;" fill="#222" >80</text>
<line x1="21.9" y1="562.7" x2="24.5" y2="562.7" stroke="#bbb" stroke-width="0.8" />
<text transform="translate(16,562.7) rotate(-90)" x="0" y="2.12" font-size="6.4" text-anchor="middle" font-weight="bold" style="font-family:'Liberation Serif', serif;" fill="#222" >100</text>
<text transform="translate(4.45,604.1) rotate(-90)" x="0" y="2.95" font-size="8.9" text-anchor="middle" font-weight="bold" style="font-family:'Liberation Serif', serif;" fill="#111" >Cell Viability (%)</text>
<text x="33" y="659.38" font-size="6.6" text-anchor="middle" font-weight="bold" style="font-family:'Liberation Serif', serif;" fill="#222" >0</text>
<text x="53.7" y="659.38" font-size="6.6" text-anchor="middle" font-weight="bold" style="font-family:'Liberation Serif', serif;" fill="#222" >0.0625</text>
<text x="72.8" y="659.38" font-size="6.6" text-anchor="middle" font-weight="bold" style="font-family:'Liberation Serif', serif;" fill="#222" >0.125</text>
<text x="92.2" y="659.38" font-size="6.6" text-anchor="middle" font-weight="bold" style="font-family:'Liberation Serif', serif;" fill="#222" >0.25</text>
<text x="108.9" y="659.38" font-size="6.6" text-anchor="middle" font-weight="bold" style="font-family:'Liberation Serif', serif;" fill="#222" >0.5</text>
<text x="131.5" y="659.38" font-size="6.6" text-anchor="middle" font-weight="bold" style="font-family:'Liberation Serif', serif;" fill="#222" >1</text>
<text x="151.1" y="659.38" font-size="6.6" text-anchor="middle" font-weight="bold" style="font-family:'Liberation Serif', serif;" fill="#222" >2</text>
<text x="33" y="675.08" font-size="6.6" text-anchor="middle" font-weight="bold" style="font-family:'Liberation Serif', serif;" fill="#222" >0</text>
<text x="53.2" y="675.08" font-size="6.6" text-anchor="middle" font-weight="bold" style="font-family:'Liberation Serif', serif;" fill="#222" >0.375</text>
<text x="71.9" y="675.08" font-size="6.6" text-anchor="middle" font-weight="bold" style="font-family:'Liberation Serif', serif;" fill="#222" >0.75</text>
<text x="91.5" y="675.08" font-size="6.6" text-anchor="middle" font-weight="bold" style="font-family:'Liberation Serif', serif;" fill="#222" >1.5</text>
<text x="111.7" y="675.08" font-size="6.6" text-anchor="middle" font-weight="bold" style="font-family:'Liberation Serif', serif;" fill="#222" >3</text>
<text x="131" y="675.08" font-size="6.6" text-anchor="middle" font-weight="bold" style="font-family:'Liberation Serif', serif;" fill="#222" >6</text>
<text x="151.2" y="675.08" font-size="6.6" text-anchor="middle" font-weight="bold" style="font-family:'Liberation Serif', serif;" fill="#222" >12</text>
<text x="96.3" y="668.15" font-size="8.6" text-anchor="middle" font-weight="bold" style="font-family:'Liberation Serif', serif;" fill="#111" >Ara-C (µM)</text>
<text x="95.8" y="683.45" font-size="8.6" text-anchor="middle" font-weight="bold" style="font-family:'Liberation Serif', serif;" fill="#111" >2-DG (mM)</text>
<text x="91" y="566.23" font-size="10.5" text-anchor="middle" font-weight="bold" style="font-family:'Liberation Serif', serif;" fill="#111" >Patient-1</text>
<polyline points="33,562.7 53.2,568.76 71.9,570.49 91.5,573.95 111.7,583.46 131,599.03 151.2,614.34" fill="none" stroke="#a4cce2" stroke-width="1.3" stroke-linejoin="round"/>
<circle cx="33" cy="562.7" r="1.3" fill="#78b0d4"/>
<line x1="53.2" y1="567.03" x2="53.2" y2="570.49" stroke="#78b0d4" stroke-width="0.7" />
<line x1="52" y1="567.03" x2="54.4" y2="567.03" stroke="#78b0d4" stroke-width="0.7" />
<line x1="52" y1="570.49" x2="54.4" y2="570.49" stroke="#78b0d4" stroke-width="0.7" />
<circle cx="53.2" cy="568.76" r="1.3" fill="#78b0d4"/>
<line x1="71.9" y1="568.76" x2="71.9" y2="572.22" stroke="#78b0d4" stroke-width="0.7" />
<line x1="70.7" y1="568.76" x2="73.1" y2="568.76" stroke="#78b0d4" stroke-width="0.7" />
<line x1="70.7" y1="572.22" x2="73.1" y2="572.22" stroke="#78b0d4" stroke-width="0.7" />
<circle cx="71.9" cy="570.49" r="1.3" fill="#78b0d4"/>
<circle cx="91.5" cy="573.95" r="1.3" fill="#78b0d4"/>
<circle cx="111.7" cy="583.46" r="1.3" fill="#78b0d4"/>
<circle cx="131" cy="599.03" r="1.3" fill="#78b0d4"/>
<circle cx="151.2" cy="614.34" r="1.3" fill="#78b0d4"/>
<polyline points="33,562.7 53.2,576.8 71.9,589.17 91.5,599.9 111.7,609.15 131,617.8 151.2,622.99" fill="none" stroke="#c47070" stroke-width="1.3" stroke-linejoin="round"/>
<circle cx="33" cy="562.7" r="1.3" fill="#a02838"/>
<line x1="53.2" y1="574.64" x2="53.2" y2="578.96" stroke="#a02838" stroke-width="0.7" />
<line x1="52" y1="574.64" x2="54.4" y2="574.64" stroke="#a02838" stroke-width="0.7" />
<line x1="52" y1="578.96" x2="54.4" y2="578.96" stroke="#a02838" stroke-width="0.7" />
<circle cx="53.2" cy="576.8" r="1.3" fill="#a02838"/>
<line x1="71.9" y1="587.87" x2="71.9" y2="590.47" stroke="#a02838" stroke-width="0.7" />
<line x1="70.7" y1="587.87" x2="73.1" y2="587.87" stroke="#a02838" stroke-width="0.7" />
<line x1="70.7" y1="590.47" x2="73.1" y2="590.47" stroke="#a02838" stroke-width="0.7" />
<circle cx="71.9" cy="589.17" r="1.3" fill="#a02838"/>
<circle cx="91.5" cy="599.9" r="1.3" fill="#a02838"/>
<circle cx="111.7" cy="609.15" r="1.3" fill="#a02838"/>
<circle cx="131" cy="617.8" r="1.3" fill="#a02838"/>
<circle cx="151.2" cy="622.99" r="1.3" fill="#a02838"/>
<polyline points="33,562.7 53.2,581.12 71.9,591.25 91.5,604.48 111.7,614.34 131,622.99 151.2,631.64" fill="none" stroke="#646464" stroke-width="1.3" stroke-linejoin="round"/>
<circle cx="33" cy="562.7" r="1.3" fill="#c8c8c8" stroke="#707070" stroke-width="0.8"/>
<line x1="53.2" y1="579.39" x2="53.2" y2="582.85" stroke="#707070" stroke-width="0.7" />
<line x1="52" y1="579.39" x2="54.4" y2="579.39" stroke="#707070" stroke-width="0.7" />
<line x1="52" y1="582.85" x2="54.4" y2="582.85" stroke="#707070" stroke-width="0.7" />
<circle cx="53.2" cy="581.12" r="1.3" fill="#c8c8c8" stroke="#707070" stroke-width="0.8"/>
<line x1="71.9" y1="589.95" x2="71.9" y2="592.54" stroke="#707070" stroke-width="0.7" />
<line x1="70.7" y1="589.95" x2="73.1" y2="589.95" stroke="#707070" stroke-width="0.7" />
<line x1="70.7" y1="592.54" x2="73.1" y2="592.54" stroke="#707070" stroke-width="0.7" />
<circle cx="71.9" cy="591.25" r="1.3" fill="#c8c8c8" stroke="#707070" stroke-width="0.8"/>
<circle cx="91.5" cy="604.48" r="1.3" fill="#c8c8c8" stroke="#707070" stroke-width="0.8"/>
<circle cx="111.7" cy="614.34" r="1.3" fill="#c8c8c8" stroke="#707070" stroke-width="0.8"/>
<circle cx="131" cy="622.99" r="1.3" fill="#c8c8c8" stroke="#707070" stroke-width="0.8"/>
<circle cx="151.2" cy="631.64" r="1.3" fill="#c8c8c8" stroke="#707070" stroke-width="0.8"/>
<line x1="35" y1="629.3" x2="42" y2="629.3" stroke="#a4cce2" stroke-width="1.2" />
<circle cx="38.5" cy="629.3" r="1.3" fill="#78b0d4"/>
<text x="43.8" y="631.62" font-size="7" text-anchor="start" font-weight="bold" style="font-family:'Liberation Serif', serif;" fill="#111" >Ara-C</text>
<line x1="35" y1="635.4" x2="42" y2="635.4" stroke="#c47070" stroke-width="1.2" />
<circle cx="38.5" cy="635.4" r="1.3" fill="#a02838"/>
<text x="43.8" y="637.72" font-size="7" text-anchor="start" font-weight="bold" style="font-family:'Liberation Serif', serif;" fill="#111" >2-DG</text>
<line x1="35" y1="641.7" x2="42" y2="641.7" stroke="#646464" stroke-width="1.2" />
<circle cx="38.5" cy="641.7" r="1.3" fill="#c8c8c8" stroke="#707070" stroke-width="0.8"/>
<text x="43.8" y="644.02" font-size="7" text-anchor="start" font-weight="bold" style="font-family:'Liberation Serif', serif;" fill="#111" >Ara-C + 2-DG</text>
<text x="182" y="553.99" font-size="12" font-weight="bold" style="font-family:'Liberation Sans', sans-serif" fill="#000">M</text>
<rect x="206.5" y="555.3" width="138" height="96.6" fill="none" stroke="#a8a8a8" stroke-width="0.9" />
<line x1="203.9" y1="649" x2="206.5" y2="649" stroke="#bbb" stroke-width="0.8" />
<text transform="translate(199.2,649) rotate(-90)" x="0" y="2.12" font-size="6.4" text-anchor="middle" font-weight="bold" style="font-family:'Liberation Serif', serif;" fill="#222" >0</text>
<line x1="203.9" y1="631.8" x2="206.5" y2="631.8" stroke="#bbb" stroke-width="0.8" />
<text transform="translate(199.2,631.8) rotate(-90)" x="0" y="2.12" font-size="6.4" text-anchor="middle" font-weight="bold" style="font-family:'Liberation Serif', serif;" fill="#222" >20</text>
<line x1="203.9" y1="614.6" x2="206.5" y2="614.6" stroke="#bbb" stroke-width="0.8" />
<text transform="translate(199.2,614.6) rotate(-90)" x="0" y="2.12" font-size="6.4" text-anchor="middle" font-weight="bold" style="font-family:'Liberation Serif', serif;" fill="#222" >40</text>
<line x1="203.9" y1="597.4" x2="206.5" y2="597.4" stroke="#bbb" stroke-width="0.8" />
<text transform="translate(199.2,597.4) rotate(-90)" x="0" y="2.12" font-size="6.4" text-anchor="middle" font-weight="bold" style="font-family:'Liberation Serif', serif;" fill="#222" >60</text>
<line x1="203.9" y1="580.2" x2="206.5" y2="580.2" stroke="#bbb" stroke-width="0.8" />
<text transform="translate(199.2,580.2) rotate(-90)" x="0" y="2.12" font-size="6.4" text-anchor="middle" font-weight="bold" style="font-family:'Liberation Serif', serif;" fill="#222" >80</text>
<line x1="203.9" y1="563" x2="206.5" y2="563" stroke="#bbb" stroke-width="0.8" />
<text transform="translate(199.2,563) rotate(-90)" x="0" y="2.12" font-size="6.4" text-anchor="middle" font-weight="bold" style="font-family:'Liberation Serif', serif;" fill="#222" >100</text>
<text transform="translate(187.65,604.1) rotate(-90)" x="0" y="2.95" font-size="8.9" text-anchor="middle" font-weight="bold" style="font-family:'Liberation Serif', serif;" fill="#111" >Cell Viability (%)</text>
<text x="214.4" y="659.28" font-size="6.6" text-anchor="middle" font-weight="bold" style="font-family:'Liberation Serif', serif;" fill="#222" >0</text>
<text x="235.2" y="659.28" font-size="6.6" text-anchor="middle" font-weight="bold" style="font-family:'Liberation Serif', serif;" fill="#222" >0.0625</text>
<text x="254.8" y="659.28" font-size="6.6" text-anchor="middle" font-weight="bold" style="font-family:'Liberation Serif', serif;" fill="#222" >0.125</text>
<text x="275.6" y="659.28" font-size="6.6" text-anchor="middle" font-weight="bold" style="font-family:'Liberation Serif', serif;" fill="#222" >0.25</text>
<text x="295.2" y="659.28" font-size="6.6" text-anchor="middle" font-weight="bold" style="font-family:'Liberation Serif', serif;" fill="#222" >0.5</text>
<text x="316" y="659.28" font-size="6.6" text-anchor="middle" font-weight="bold" style="font-family:'Liberation Serif', serif;" fill="#222" >1</text>
<text x="335.6" y="659.28" font-size="6.6" text-anchor="middle" font-weight="bold" style="font-family:'Liberation Serif', serif;" fill="#222" >2</text>
<text x="214.4" y="675.08" font-size="6.6" text-anchor="middle" font-weight="bold" style="font-family:'Liberation Serif', serif;" fill="#222" >0</text>
<text x="235.2" y="675.08" font-size="6.6" text-anchor="middle" font-weight="bold" style="font-family:'Liberation Serif', serif;" fill="#222" >0.375</text>
<text x="254.8" y="675.08" font-size="6.6" text-anchor="middle" font-weight="bold" style="font-family:'Liberation Serif', serif;" fill="#222" >0.75</text>
<text x="275.6" y="675.08" font-size="6.6" text-anchor="middle" font-weight="bold" style="font-family:'Liberation Serif', serif;" fill="#222" >1.5</text>
<text x="295.2" y="675.08" font-size="6.6" text-anchor="middle" font-weight="bold" style="font-family:'Liberation Serif', serif;" fill="#222" >3</text>
<text x="316" y="675.08" font-size="6.6" text-anchor="middle" font-weight="bold" style="font-family:'Liberation Serif', serif;" fill="#222" >6</text>
<text x="335.6" y="675.08" font-size="6.6" text-anchor="middle" font-weight="bold" style="font-family:'Liberation Serif', serif;" fill="#222" >12</text>
<text x="277.3" y="668.15" font-size="8.6" text-anchor="middle" font-weight="bold" style="font-family:'Liberation Serif', serif;" fill="#111" >Ara-C (µM)</text>
<text x="277.3" y="683.35" font-size="8.6" text-anchor="middle" font-weight="bold" style="font-family:'Liberation Serif', serif;" fill="#111" >2-DG (mM)</text>
<text x="274.65" y="567.18" font-size="10.5" text-anchor="middle" font-weight="bold" style="font-family:'Liberation Serif', serif;" fill="#111" >Patient-2</text>
<polyline points="214.4,563 235.2,582.61 254.8,588.97 275.6,596.54 295.2,603.42 316,611.5 335.6,618.99" fill="none" stroke="#a4cce2" stroke-width="1.3" stroke-linejoin="round"/>
<circle cx="214.4" cy="563" r="1.3" fill="#78b0d4"/>
<line x1="235.2" y1="580.89" x2="235.2" y2="584.33" stroke="#78b0d4" stroke-width="0.7" />
<line x1="234" y1="580.89" x2="236.4" y2="580.89" stroke="#78b0d4" stroke-width="0.7" />
<line x1="234" y1="584.33" x2="236.4" y2="584.33" stroke="#78b0d4" stroke-width="0.7" />
<circle cx="235.2" cy="582.61" r="1.3" fill="#78b0d4"/>
<line x1="254.8" y1="587.25" x2="254.8" y2="590.69" stroke="#78b0d4" stroke-width="0.7" />
<line x1="253.6" y1="587.25" x2="256" y2="587.25" stroke="#78b0d4" stroke-width="0.7" />
<line x1="253.6" y1="590.69" x2="256" y2="590.69" stroke="#78b0d4" stroke-width="0.7" />
<circle cx="254.8" cy="588.97" r="1.3" fill="#78b0d4"/>
<circle cx="275.6" cy="596.54" r="1.3" fill="#78b0d4"/>
<circle cx="295.2" cy="603.42" r="1.3" fill="#78b0d4"/>
<circle cx="316" cy="611.5" r="1.3" fill="#78b0d4"/>
<line x1="335.6" y1="617.27" x2="335.6" y2="620.71" stroke="#78b0d4" stroke-width="0.7" />
<line x1="334.4" y1="617.27" x2="336.8" y2="617.27" stroke="#78b0d4" stroke-width="0.7" />
<line x1="334.4" y1="620.71" x2="336.8" y2="620.71" stroke="#78b0d4" stroke-width="0.7" />
<circle cx="335.6" cy="618.99" r="1.3" fill="#78b0d4"/>
<polyline points="214.4,563 235.2,596.54 254.8,613.74 275.6,622.43 295.2,631.63 316,633.69 335.6,634.47" fill="none" stroke="#c47070" stroke-width="1.3" stroke-linejoin="round"/>
<circle cx="214.4" cy="563" r="1.3" fill="#a02838"/>
<line x1="235.2" y1="595.25" x2="235.2" y2="597.83" stroke="#a02838" stroke-width="0.7" />
<line x1="234" y1="595.25" x2="236.4" y2="595.25" stroke="#a02838" stroke-width="0.7" />
<line x1="234" y1="597.83" x2="236.4" y2="597.83" stroke="#a02838" stroke-width="0.7" />
<circle cx="235.2" cy="596.54" r="1.3" fill="#a02838"/>
<line x1="254.8" y1="612.45" x2="254.8" y2="615.03" stroke="#a02838" stroke-width="0.7" />
<line x1="253.6" y1="612.45" x2="256" y2="612.45" stroke="#a02838" stroke-width="0.7" />
<line x1="253.6" y1="615.03" x2="256" y2="615.03" stroke="#a02838" stroke-width="0.7" />
<circle cx="254.8" cy="613.74" r="1.3" fill="#a02838"/>
<circle cx="275.6" cy="622.43" r="1.3" fill="#a02838"/>
<circle cx="295.2" cy="631.63" r="1.3" fill="#a02838"/>
<circle cx="316" cy="633.69" r="1.3" fill="#a02838"/>
<circle cx="335.6" cy="634.47" r="1.3" fill="#a02838"/>
<polyline points="214.4,563 235.2,606.86 254.8,618.13 275.6,626.73 295.2,634.04 316,638.34 335.6,640.14" fill="none" stroke="#646464" stroke-width="1.3" stroke-linejoin="round"/>
<circle cx="214.4" cy="563" r="1.3" fill="#c8c8c8" stroke="#707070" stroke-width="0.8"/>
<line x1="235.2" y1="605.14" x2="235.2" y2="608.58" stroke="#707070" stroke-width="0.7" />
<line x1="234" y1="605.14" x2="236.4" y2="605.14" stroke="#707070" stroke-width="0.7" />
<line x1="234" y1="608.58" x2="236.4" y2="608.58" stroke="#707070" stroke-width="0.7" />
<circle cx="235.2" cy="606.86" r="1.3" fill="#c8c8c8" stroke="#707070" stroke-width="0.8"/>
<circle cx="254.8" cy="618.13" r="1.3" fill="#c8c8c8" stroke="#707070" stroke-width="0.8"/>
<circle cx="275.6" cy="626.73" r="1.3" fill="#c8c8c8" stroke="#707070" stroke-width="0.8"/>
<circle cx="295.2" cy="634.04" r="1.3" fill="#c8c8c8" stroke="#707070" stroke-width="0.8"/>
<circle cx="316" cy="638.34" r="1.3" fill="#c8c8c8" stroke="#707070" stroke-width="0.8"/>
<circle cx="335.6" cy="640.14" r="1.3" fill="#c8c8c8" stroke="#707070" stroke-width="0.8"/>
<line x1="216" y1="629.6" x2="224" y2="629.6" stroke="#a4cce2" stroke-width="1.2" />
<circle cx="220" cy="629.6" r="1.3" fill="#78b0d4"/>
<text x="227.4" y="631.92" font-size="7" text-anchor="start" font-weight="bold" style="font-family:'Liberation Serif', serif;" fill="#111" >Ara-C</text>
<line x1="216" y1="636" x2="224" y2="636" stroke="#c47070" stroke-width="1.2" />
<circle cx="220" cy="636" r="1.3" fill="#a02838"/>
<text x="227.4" y="638.32" font-size="7" text-anchor="start" font-weight="bold" style="font-family:'Liberation Serif', serif;" fill="#111" >2-DG</text>
<line x1="216" y1="643.2" x2="224" y2="643.2" stroke="#646464" stroke-width="1.2" />
<circle cx="220" cy="643.2" r="1.3" fill="#c8c8c8" stroke="#707070" stroke-width="0.8"/>
<text x="227.4" y="645.52" font-size="7" text-anchor="start" font-weight="bold" style="font-family:'Liberation Serif', serif;" fill="#111" >Ara-C + 2-DG</text>
<text x="365.8" y="554.29" font-size="12" font-weight="bold" style="font-family:'Liberation Sans', sans-serif" fill="#000">N</text>
<rect x="388.4" y="554.6" width="130.2" height="97.7" fill="none" stroke="#a8a8a8" stroke-width="0.9" />
<line x1="385.8" y1="648.5" x2="388.4" y2="648.5" stroke="#bbb" stroke-width="0.8" />
<text transform="translate(380.8,648.5) rotate(-90)" x="0" y="2.12" font-size="6.4" text-anchor="middle" font-weight="bold" style="font-family:'Liberation Serif', serif;" fill="#222" >0</text>
<line x1="385.8" y1="631.24" x2="388.4" y2="631.24" stroke="#bbb" stroke-width="0.8" />
<text transform="translate(380.8,631.24) rotate(-90)" x="0" y="2.12" font-size="6.4" text-anchor="middle" font-weight="bold" style="font-family:'Liberation Serif', serif;" fill="#222" >20</text>
<line x1="385.8" y1="613.98" x2="388.4" y2="613.98" stroke="#bbb" stroke-width="0.8" />
<text transform="translate(380.8,613.98) rotate(-90)" x="0" y="2.12" font-size="6.4" text-anchor="middle" font-weight="bold" style="font-family:'Liberation Serif', serif;" fill="#222" >40</text>
<line x1="385.8" y1="596.72" x2="388.4" y2="596.72" stroke="#bbb" stroke-width="0.8" />
<text transform="translate(380.8,596.72) rotate(-90)" x="0" y="2.12" font-size="6.4" text-anchor="middle" font-weight="bold" style="font-family:'Liberation Serif', serif;" fill="#222" >60</text>
<line x1="385.8" y1="579.46" x2="388.4" y2="579.46" stroke="#bbb" stroke-width="0.8" />
<text transform="translate(380.8,579.46) rotate(-90)" x="0" y="2.12" font-size="6.4" text-anchor="middle" font-weight="bold" style="font-family:'Liberation Serif', serif;" fill="#222" >80</text>
<line x1="385.8" y1="562.2" x2="388.4" y2="562.2" stroke="#bbb" stroke-width="0.8" />
<text transform="translate(380.8,562.2) rotate(-90)" x="0" y="2.12" font-size="6.4" text-anchor="middle" font-weight="bold" style="font-family:'Liberation Serif', serif;" fill="#222" >100</text>
<text transform="translate(369.25,604.1) rotate(-90)" x="0" y="2.95" font-size="8.9" text-anchor="middle" font-weight="bold" style="font-family:'Liberation Serif', serif;" fill="#111" >Cell Viability (%)</text>
<text x="396.2" y="658.38" font-size="6.6" text-anchor="middle" font-weight="bold" style="font-family:'Liberation Serif', serif;" fill="#222" >0</text>
<text x="415.5" y="658.38" font-size="6.6" text-anchor="middle" font-weight="bold" style="font-family:'Liberation Serif', serif;" fill="#222" >0.0625</text>
<text x="434.4" y="658.38" font-size="6.6" text-anchor="middle" font-weight="bold" style="font-family:'Liberation Serif', serif;" fill="#222" >0.125</text>
<text x="453.2" y="658.38" font-size="6.6" text-anchor="middle" font-weight="bold" style="font-family:'Liberation Serif', serif;" fill="#222" >0.25</text>
<text x="469.6" y="658.38" font-size="6.6" text-anchor="middle" font-weight="bold" style="font-family:'Liberation Serif', serif;" fill="#222" >0.5</text>
<text x="491.7" y="658.38" font-size="6.6" text-anchor="middle" font-weight="bold" style="font-family:'Liberation Serif', serif;" fill="#222" >1</text>
<text x="510.6" y="658.38" font-size="6.6" text-anchor="middle" font-weight="bold" style="font-family:'Liberation Serif', serif;" fill="#222" >2</text>
<text x="396.2" y="674.98" font-size="6.6" text-anchor="middle" font-weight="bold" style="font-family:'Liberation Serif', serif;" fill="#222" >0</text>
<text x="416.3" y="674.98" font-size="6.6" text-anchor="middle" font-weight="bold" style="font-family:'Liberation Serif', serif;" fill="#222" >0.375</text>
<text x="434.4" y="674.98" font-size="6.6" text-anchor="middle" font-weight="bold" style="font-family:'Liberation Serif', serif;" fill="#222" >0.75</text>
<text x="452.2" y="674.98" font-size="6.6" text-anchor="middle" font-weight="bold" style="font-family:'Liberation Serif', serif;" fill="#222" >1.5</text>
<text x="471.5" y="674.98" font-size="6.6" text-anchor="middle" font-weight="bold" style="font-family:'Liberation Serif', serif;" fill="#222" >3</text>
<text x="491.7" y="674.98" font-size="6.6" text-anchor="middle" font-weight="bold" style="font-family:'Liberation Serif', serif;" fill="#222" >6</text>
<text x="510.6" y="674.98" font-size="6.6" text-anchor="middle" font-weight="bold" style="font-family:'Liberation Serif', serif;" fill="#222" >12</text>
<text x="459.6" y="668.05" font-size="8.6" text-anchor="middle" font-weight="bold" style="font-family:'Liberation Serif', serif;" fill="#111" >Ara-C (µM)</text>
<text x="460" y="683.15" font-size="8.6" text-anchor="middle" font-weight="bold" style="font-family:'Liberation Serif', serif;" fill="#111" >2-DG (mM)</text>
<text x="452.2" y="565.68" font-size="10.5" text-anchor="middle" font-weight="bold" style="font-family:'Liberation Serif', serif;" fill="#111" >Patient-3</text>
<polyline points="396.4,562.2 414.6,576.01 434.3,578.17 454,590.16 473,609.84 492,627.87 510.8,639.01" fill="none" stroke="#a4cce2" stroke-width="1.3" stroke-linejoin="round"/>
<circle cx="396.4" cy="562.2" r="1.3" fill="#78b0d4"/>
<circle cx="414.6" cy="576.01" r="1.3" fill="#78b0d4"/>
<line x1="434.3" y1="576.87" x2="434.3" y2="579.46" stroke="#78b0d4" stroke-width="0.7" />
<line x1="433.1" y1="576.87" x2="435.5" y2="576.87" stroke="#78b0d4" stroke-width="0.7" />
<line x1="433.1" y1="579.46" x2="435.5" y2="579.46" stroke="#78b0d4" stroke-width="0.7" />
<circle cx="434.3" cy="578.17" r="1.3" fill="#78b0d4"/>
<circle cx="454" cy="590.16" r="1.3" fill="#78b0d4"/>
<circle cx="473" cy="609.84" r="1.3" fill="#78b0d4"/>
<circle cx="492" cy="627.87" r="1.3" fill="#78b0d4"/>
<circle cx="510.8" cy="639.01" r="1.3" fill="#78b0d4"/>
<polyline points="396.4,562.2 414.6,594.48 434.3,602.67 454,617 473,630.29 492,633.48 510.8,635.73" fill="none" stroke="#c47070" stroke-width="1.3" stroke-linejoin="round"/>
<circle cx="396.4" cy="562.2" r="1.3" fill="#a02838"/>
<line x1="414.6" y1="592.75" x2="414.6" y2="596.2" stroke="#a02838" stroke-width="0.7" />
<line x1="413.4" y1="592.75" x2="415.8" y2="592.75" stroke="#a02838" stroke-width="0.7" />
<line x1="413.4" y1="596.2" x2="415.8" y2="596.2" stroke="#a02838" stroke-width="0.7" />
<circle cx="414.6" cy="594.48" r="1.3" fill="#a02838"/>
<circle cx="434.3" cy="602.67" r="1.3" fill="#a02838"/>
<circle cx="454" cy="617" r="1.3" fill="#a02838"/>
<circle cx="473" cy="630.29" r="1.3" fill="#a02838"/>
<circle cx="492" cy="633.48" r="1.3" fill="#a02838"/>
<circle cx="510.8" cy="635.73" r="1.3" fill="#a02838"/>
<polyline points="396.4,562.2 414.6,601.73 434.3,611.82 454,626.15 473,636.59 492,640.65 510.8,644.44" fill="none" stroke="#646464" stroke-width="1.3" stroke-linejoin="round"/>
<circle cx="396.4" cy="562.2" r="1.3" fill="#c8c8c8" stroke="#707070" stroke-width="0.8"/>
<circle cx="414.6" cy="601.73" r="1.3" fill="#c8c8c8" stroke="#707070" stroke-width="0.8"/>
<circle cx="434.3" cy="611.82" r="1.3" fill="#c8c8c8" stroke="#707070" stroke-width="0.8"/>
<circle cx="454" cy="626.15" r="1.3" fill="#c8c8c8" stroke="#707070" stroke-width="0.8"/>
<circle cx="473" cy="636.59" r="1.3" fill="#c8c8c8" stroke="#707070" stroke-width="0.8"/>
<circle cx="492" cy="640.65" r="1.3" fill="#c8c8c8" stroke="#707070" stroke-width="0.8"/>
<circle cx="510.8" cy="644.44" r="1.3" fill="#c8c8c8" stroke="#707070" stroke-width="0.8"/>
<line x1="398" y1="629.8" x2="405" y2="629.8" stroke="#a4cce2" stroke-width="1.2" />
<circle cx="401.5" cy="629.8" r="1.3" fill="#78b0d4"/>
<text x="407.3" y="632.12" font-size="7" text-anchor="start" font-weight="bold" style="font-family:'Liberation Serif', serif;" fill="#111" >Ara-C</text>
<line x1="398" y1="635.2" x2="405" y2="635.2" stroke="#c47070" stroke-width="1.2" />
<circle cx="401.5" cy="635.2" r="1.3" fill="#a02838"/>
<text x="407.3" y="637.52" font-size="7" text-anchor="start" font-weight="bold" style="font-family:'Liberation Serif', serif;" fill="#111" >2-DG</text>
<line x1="398" y1="643.1" x2="405" y2="643.1" stroke="#646464" stroke-width="1.2" />
<circle cx="401.5" cy="643.1" r="1.3" fill="#c8c8c8" stroke="#707070" stroke-width="0.8"/>
<text x="407.3" y="645.42" font-size="7" text-anchor="start" font-weight="bold" style="font-family:'Liberation Serif', serif;" fill="#111" >Ara-C + 2-DG</text>
<text x="365.6" y="136.59" font-size="12" font-weight="bold" style="font-family:'Liberation Sans', sans-serif" fill="#000">D</text>
<text x="424.2" y="135.55" font-size="8.6" text-anchor="middle" font-weight="bold" style="font-family:'Liberation Serif', serif;" fill="#111" >U937</text>
<text x="466.4" y="135.55" font-size="8.6" text-anchor="middle" font-weight="bold" style="font-family:'Liberation Serif', serif;" fill="#111" >OCI-AML3</text>
<defs><filter id="bl" x="-20%" y="-100%" width="140%" height="300%"><feGaussianBlur stdDeviation="0.7"/></filter></defs>
<rect x="404.4" y="137.8" width="38.5" height="12.6" fill="#e2e2e2" />
<rect x="404.4" y="152.1" width="38.5" height="8.8" fill="#d9d9d9" />
<rect x="445.3" y="137.8" width="37.4" height="12.6" fill="#e6e6e6" />
<rect x="445.3" y="152.1" width="37.4" height="8.8" fill="#dedede" />
<rect x="406" y="143.4" width="17" height="2.6" rx="1.3" fill="#4c4c4c" filter="url(#bl)"/>
<rect x="426" y="143.8" width="15.5" height="2" rx="1" fill="#a4a4a4" filter="url(#bl)"/>
<rect x="405.3" y="154.9" width="18" height="3.2" rx="1.6" fill="#3a3a3a" filter="url(#bl)"/>
<rect x="425" y="155.1" width="17.5" height="3" rx="1.5" fill="#464646" filter="url(#bl)"/>
<rect x="446.6" y="141.1" width="17" height="4" rx="2" fill="#0c0c0c" filter="url(#bl)"/>
<rect x="466" y="142.5" width="15" height="2" rx="1" fill="#c4c4c4" filter="url(#bl)"/>
<rect x="445.8" y="153.9" width="18.5" height="5" rx="2.5" fill="#080808" filter="url(#bl)"/>
<rect x="464.4" y="154.3" width="17.6" height="4.6" rx="2.3" fill="#101010" filter="url(#bl)"/>
<text x="488" y="146.45" font-size="8.6" text-anchor="start" font-weight="bold" style="font-family:'Liberation Serif', serif;" fill="#111" >HK1</text>
<text x="488" y="160.35" font-size="8.6" text-anchor="start" font-weight="bold" style="font-family:'Liberation Serif', serif;" fill="#111" >Actin</text>
<text transform="translate(416,169.4) rotate(-30) scale(0.82,1)" x="0" y="0" font-size="9" text-anchor="end" font-weight="bold" style="font-family:'Liberation Serif', serif;stroke-width:0.35px" fill="#111">shNT</text>
<text transform="translate(438,168.5) rotate(-30) scale(0.82,1)" x="0" y="0" font-size="9" text-anchor="end" font-weight="bold" style="font-family:'Liberation Serif', serif;stroke-width:0.35px" fill="#111">shHK1</text>
<text transform="translate(456,169.1) rotate(-30) scale(0.82,1)" x="0" y="0" font-size="9" text-anchor="end" font-weight="bold" style="font-family:'Liberation Serif', serif;stroke-width:0.35px" fill="#111">shNT</text>
<text transform="translate(476.7,168.2) rotate(-30) scale(0.82,1)" x="0" y="0" font-size="9" text-anchor="end" font-weight="bold" style="font-family:'Liberation Serif', serif;stroke-width:0.35px" fill="#111">shHK1</text>
<text x="365.8" y="198.59" font-size="12" font-weight="bold" style="font-family:'Liberation Sans', sans-serif" fill="#000">E</text>
<text x="416.3" y="194.65" font-size="8.6" text-anchor="middle" font-weight="bold" style="font-family:'Liberation Serif', serif;" fill="#111" >U937</text>
<line x1="400.3" y1="195.2" x2="400.3" y2="243.8" stroke="#c8c8b8" stroke-width="0.8" />
<rect x="400.6" y="201" width="14.9" height="42.8" fill="#5aaaee" />
<line x1="408.05" y1="198" x2="408.05" y2="205" stroke="#506080" stroke-width="0.7" />
<line x1="406.55" y1="198" x2="409.55" y2="198" stroke="#506080" stroke-width="0.7" />
<rect x="418.1" y="219.4" width="13" height="24.4" fill="#dd0000" />
<line x1="424.6" y1="214.2" x2="424.6" y2="223.4" stroke="#803030" stroke-width="0.7" />
<line x1="423.1" y1="214.2" x2="426.1" y2="214.2" stroke="#803030" stroke-width="0.7" />
<text x="424.4" y="214.25" font-size="8" text-anchor="middle" font-weight="bold" style="font-family:'Liberation Serif', serif;" fill="#333" >*</text>
<line x1="398.8" y1="240.9" x2="400.3" y2="240.9" stroke="#c8c8c8" stroke-width="0.6" />
<text transform="translate(393.6,240.9) rotate(-90)" x="0" y="2.25" font-size="6.8" text-anchor="middle" font-weight="bold" style="font-family:'Liberation Serif', serif;" fill="#222" >0.0</text>
<line x1="398.8" y1="227.3" x2="400.3" y2="227.3" stroke="#c8c8c8" stroke-width="0.6" />
<text transform="translate(393.6,227.3) rotate(-90)" x="0" y="2.25" font-size="6.8" text-anchor="middle" font-weight="bold" style="font-family:'Liberation Serif', serif;" fill="#222" >0.2</text>
<line x1="398.8" y1="213.9" x2="400.3" y2="213.9" stroke="#c8c8c8" stroke-width="0.6" />
<text transform="translate(393.6,213.9) rotate(-90)" x="0" y="2.25" font-size="6.8" text-anchor="middle" font-weight="bold" style="font-family:'Liberation Serif', serif;" fill="#222" >0.4</text>
<line x1="398.8" y1="200.8" x2="400.3" y2="200.8" stroke="#c8c8c8" stroke-width="0.6" />
<text transform="translate(393.6,200.8) rotate(-90)" x="0" y="2.25" font-size="6.8" text-anchor="middle" font-weight="bold" style="font-family:'Liberation Serif', serif;" fill="#222" >0.6</text>
<text transform="translate(384.4,221.4) rotate(-90)" x="0" y="2.28" font-size="6.9" text-anchor="middle" font-weight="bold" style="font-family:'Liberation Serif', serif;" fill="#111" >Ara-C IC50 (µM)</text>
<text x="465.8" y="194.65" font-size="8.6" text-anchor="middle" font-weight="bold" style="font-family:'Liberation Serif', serif;" fill="#111" >OCI-AML3</text>
<line x1="460.2" y1="198.3" x2="460.2" y2="244" stroke="#c8c8b8" stroke-width="0.8" />
<rect x="460.5" y="206.5" width="13.5" height="37.5" fill="#5aaaee" />
<line x1="467.25" y1="203.6" x2="467.25" y2="210.5" stroke="#506080" stroke-width="0.7" />
<line x1="465.75" y1="203.6" x2="468.75" y2="203.6" stroke="#506080" stroke-width="0.7" />
<rect x="476.7" y="217.9" width="12.9" height="26.1" fill="#dd0000" />
<line x1="483.15" y1="216.3" x2="483.15" y2="221.9" stroke="#803030" stroke-width="0.7" />
<line x1="481.65" y1="216.3" x2="484.65" y2="216.3" stroke="#803030" stroke-width="0.7" />
<text x="483.3" y="216.15" font-size="8" text-anchor="middle" font-weight="bold" style="font-family:'Liberation Serif', serif;" fill="#333" >*</text>
<line x1="458.7" y1="244.2" x2="460.2" y2="244.2" stroke="#c8c8c8" stroke-width="0.6" />
<text transform="translate(453.6,244.2) rotate(-90)" x="0" y="2.25" font-size="6.8" text-anchor="middle" font-weight="bold" style="font-family:'Liberation Serif', serif;" fill="#222" >0.0</text>
<line x1="458.7" y1="227.2" x2="460.2" y2="227.2" stroke="#c8c8c8" stroke-width="0.6" />
<text transform="translate(453.6,227.2) rotate(-90)" x="0" y="2.25" font-size="6.8" text-anchor="middle" font-weight="bold" style="font-family:'Liberation Serif', serif;" fill="#222" >0.4</text>
<line x1="458.7" y1="207.6" x2="460.2" y2="207.6" stroke="#c8c8c8" stroke-width="0.6" />
<text transform="translate(453.6,207.6) rotate(-90)" x="0" y="2.25" font-size="6.8" text-anchor="middle" font-weight="bold" style="font-family:'Liberation Serif', serif;" fill="#222" >0.8</text>
<text transform="translate(443.8,222.9) rotate(-90)" x="0" y="2.28" font-size="6.9" text-anchor="middle" font-weight="bold" style="font-family:'Liberation Serif', serif;" fill="#111" >Ara-C IC50 (µM)</text>
<text transform="translate(407.8,252.2) rotate(-30) scale(0.82,1)" x="0" y="0" font-size="9" text-anchor="end" font-weight="bold" style="font-family:'Liberation Serif', serif;stroke-width:0.35px" fill="#111">shNT</text>
<text transform="translate(429.4,253) rotate(-30) scale(0.82,1)" x="0" y="0" font-size="9" text-anchor="end" font-weight="bold" style="font-family:'Liberation Serif', serif;stroke-width:0.35px" fill="#111">shHK1</text>
<text transform="translate(470.7,252.2) rotate(-30) scale(0.82,1)" x="0" y="0" font-size="9" text-anchor="end" font-weight="bold" style="font-family:'Liberation Serif', serif;stroke-width:0.35px" fill="#111">shNT</text>
<text transform="translate(487.1,253) rotate(-30) scale(0.82,1)" x="0" y="0" font-size="9" text-anchor="end" font-weight="bold" style="font-family:'Liberation Serif', serif;stroke-width:0.35px" fill="#111">shHK1</text>
</svg></body></html>
